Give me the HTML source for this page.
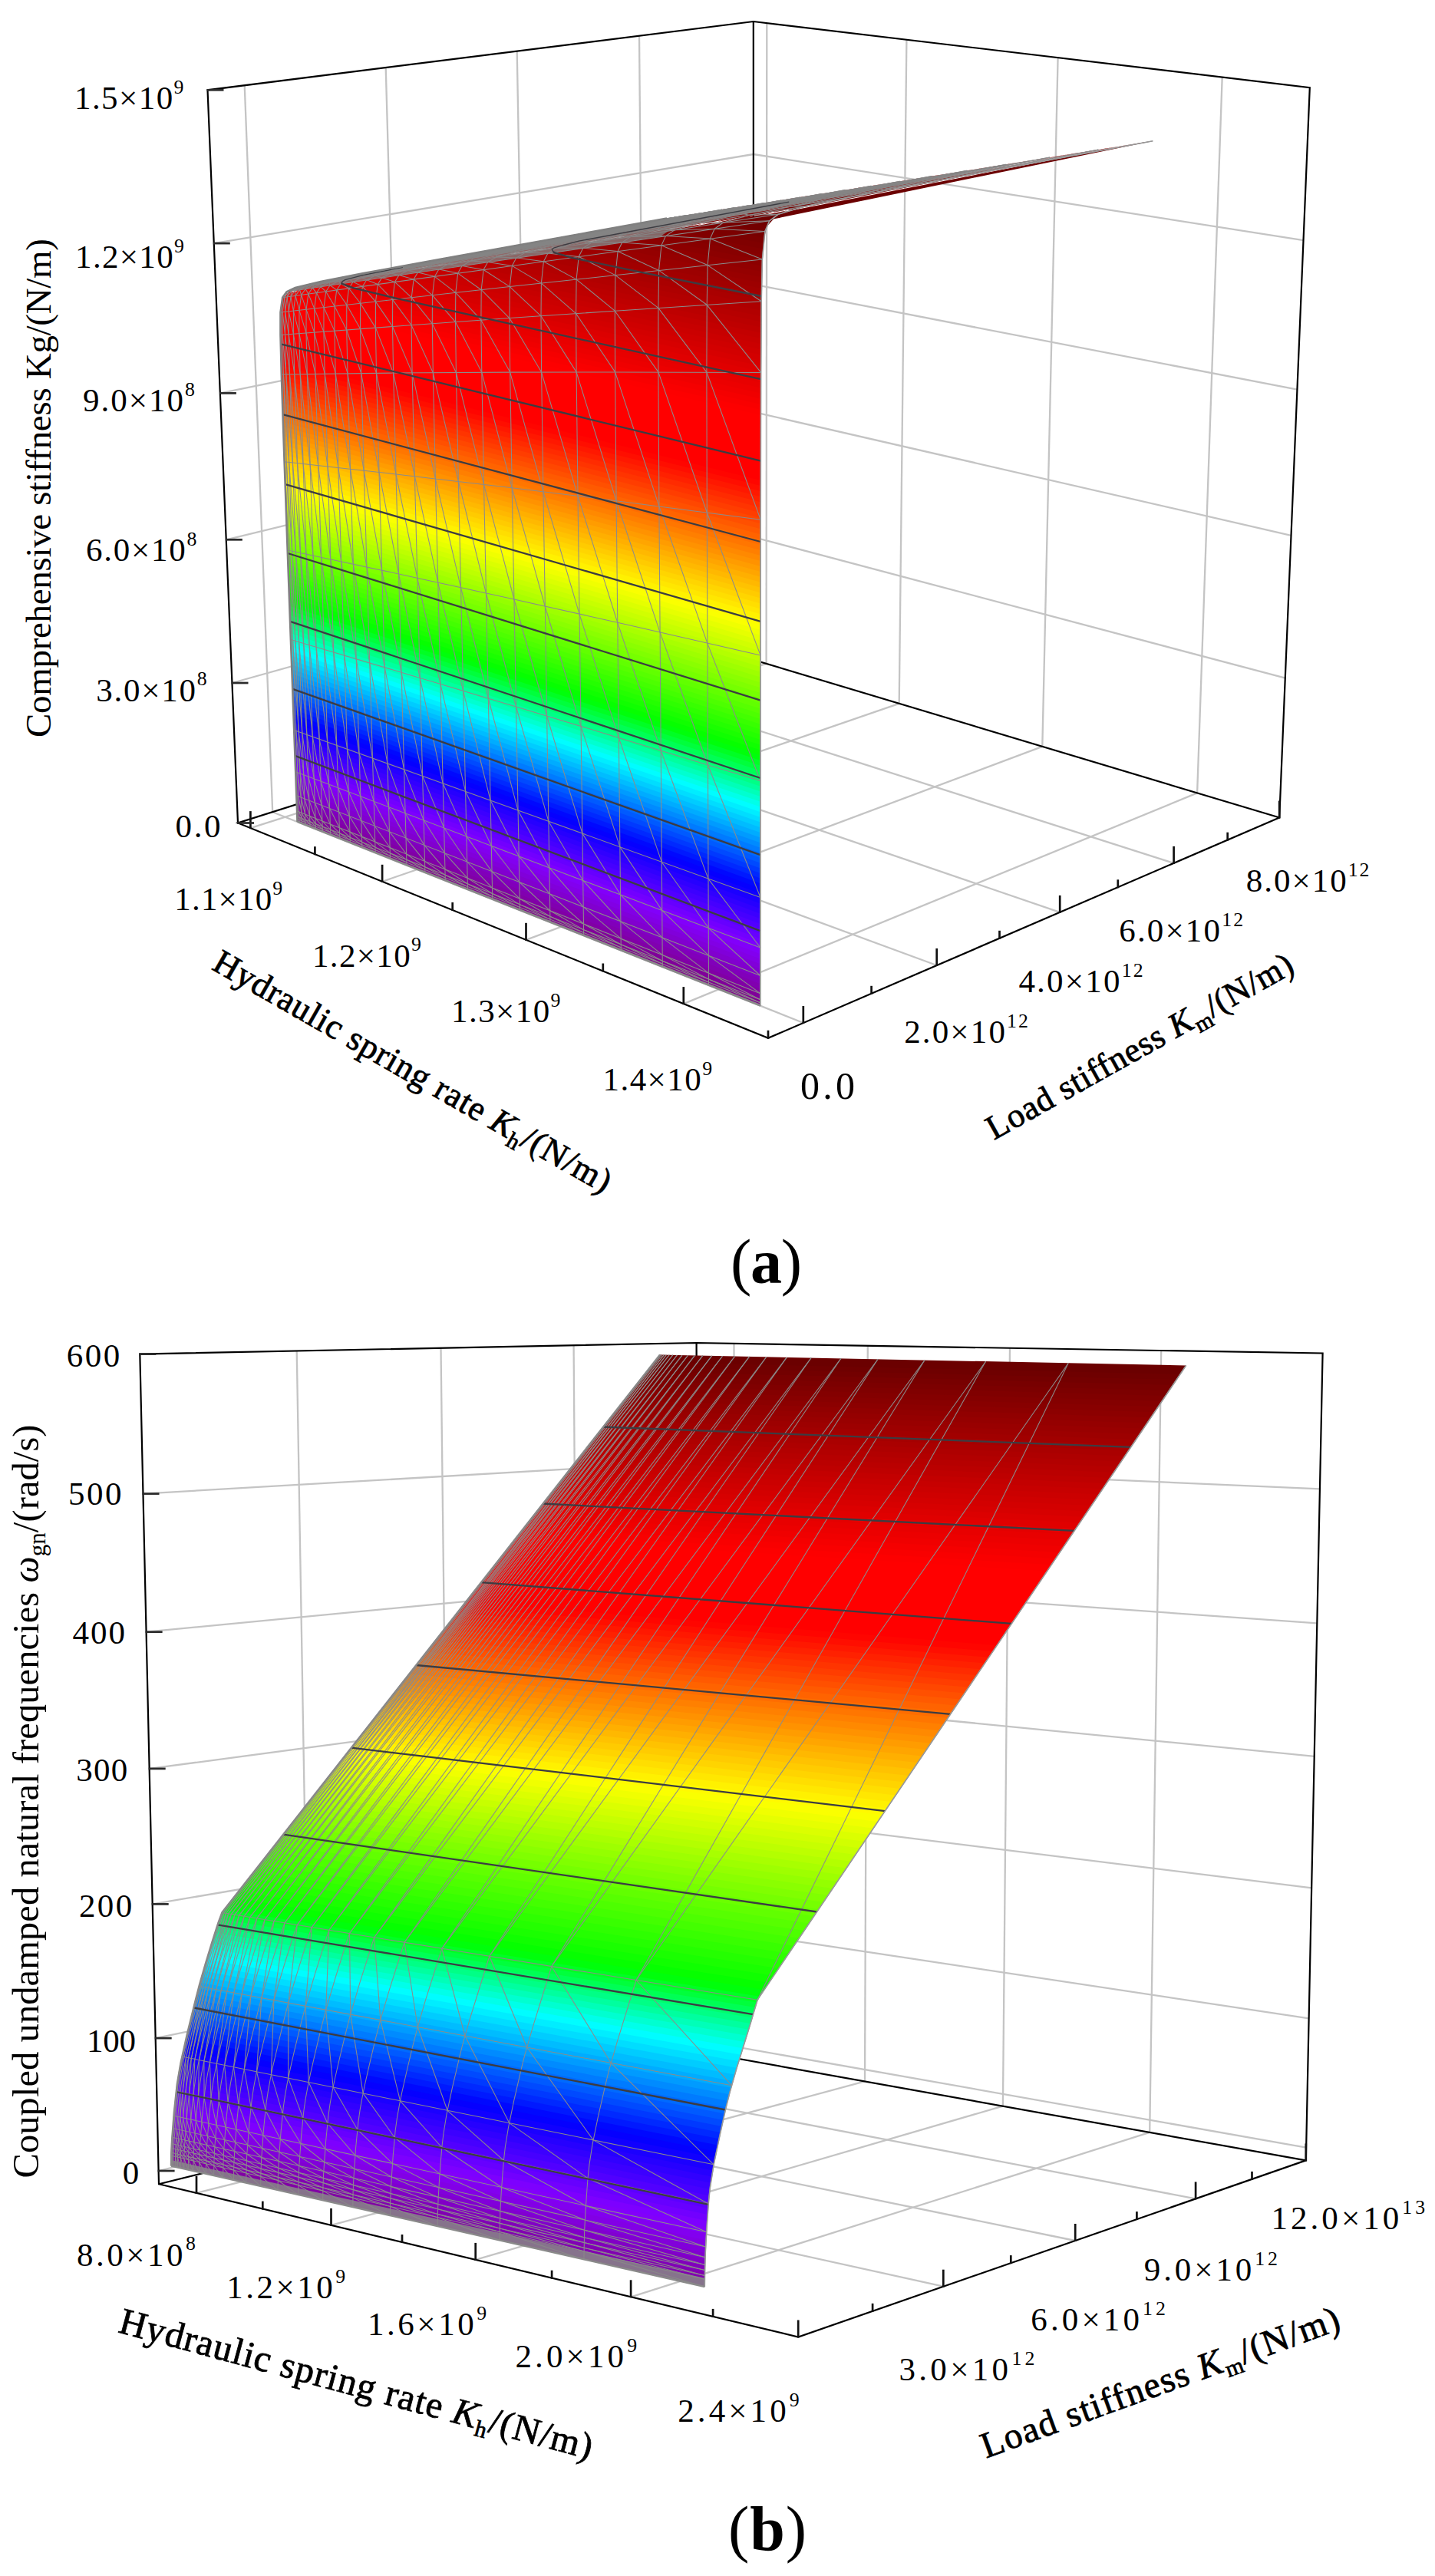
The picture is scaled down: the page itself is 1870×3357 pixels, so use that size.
<!DOCTYPE html><html><head><meta charset="utf-8"><title>Figure</title>
<style>html,body{margin:0;padding:0;background:#fff}svg{display:block}text{font-family:"Liberation Serif",serif;fill:#000}</style></head><body>
<svg width="1870" height="3357" viewBox="0 0 1870 3357">
<rect width="1870" height="3357" fill="#fff"/>
<g stroke="#c4c4c4" stroke-width="2.3">
<line x1="355.2" y1="1058.2" x2="318.7" y2="111.2"/>
<line x1="355.2" y1="1058.2" x2="1046.8" y2="1333"/>
<line x1="528.2" y1="1003.5" x2="502.7" y2="88.1"/>
<line x1="528.2" y1="1003.5" x2="1220.7" y2="1258"/>
<line x1="689.6" y1="952.4" x2="673.7" y2="66.7"/>
<line x1="689.6" y1="952.4" x2="1381.2" y2="1188.9"/>
<line x1="840.6" y1="904.7" x2="833" y2="46.7"/>
<line x1="840.6" y1="904.7" x2="1529.6" y2="1124.9"/>
<line x1="998.6" y1="864.9" x2="999.3" y2="30.1"/>
<line x1="326.4" y1="1079.1" x2="998.6" y2="864.9"/>
<line x1="1171.7" y1="916.9" x2="1181.4" y2="51.7"/>
<line x1="498.1" y1="1148.8" x2="1171.7" y2="916.9"/>
<line x1="1358.3" y1="972.9" x2="1378.6" y2="75.2"/>
<line x1="685.5" y1="1224.8" x2="1358.3" y2="972.9"/>
<line x1="1560.1" y1="1033.4" x2="1592.7" y2="100.6"/>
<line x1="890.8" y1="1308.1" x2="1560.1" y2="1033.4"/>
<line x1="302.5" y1="890" x2="982" y2="700"/>
<line x1="982" y1="700" x2="1674.8" y2="883.7"/>
<line x1="294.8" y1="703.3" x2="981.9" y2="536.9"/>
<line x1="981.9" y1="536.9" x2="1682.5" y2="697.8"/>
<line x1="286.9" y1="512.4" x2="981.9" y2="370.6"/>
<line x1="981.9" y1="370.6" x2="1690.5" y2="507.7"/>
<line x1="278.8" y1="317.1" x2="981.8" y2="201"/>
<line x1="981.8" y1="201" x2="1698.5" y2="313.2"/>
</g>
<g stroke="#000" stroke-width="2.2" stroke-linecap="square" fill="none">
<polyline points="310,1072.5 270.5,117.3 981.8,28 1706.8,114.2 1667.2,1065.5 1001,1352.8 310,1072.5 982,859.9 1667.2,1065.5"/>
<polyline points="981.8,28 982,859.9"/>
</g>
<g>
<polygon points="387.6,1071 990.8,1310.8 990.8,1304.3 387.4,1065.3" fill="#800085"/>
<polygon points="387.5,1068.7 990.8,1308.2 990.8,1297.8 387.2,1059.6" fill="#800090"/>
<polygon points="387.3,1063 990.8,1301.7 990.8,1291.4 386.9,1053.9" fill="#80009a"/>
<polygon points="387.1,1057.3 990.8,1295.2 990.9,1284.9 386.7,1048.1" fill="#8100a5"/>
<polygon points="386.9,1051.6 990.9,1288.8 990.9,1278.4 386.5,1042.4" fill="#8100b0"/>
<polygon points="386.6,1045.8 990.9,1282.3 990.9,1271.8 386.3,1036.7" fill="#8100ba"/>
<polygon points="386.4,1040.1 990.9,1275.8 990.9,1265.3 386.1,1030.9" fill="#8100c5"/>
<polygon points="386.2,1034.4 990.9,1269.2 990.9,1258.8 385.9,1025.2" fill="#8100cf"/>
<polygon points="386,1028.6 990.9,1262.7 990.9,1252.3 385.7,1019.4" fill="#8100da"/>
<polygon points="385.8,1022.9 990.9,1256.2 990.9,1245.8 385.5,1013.7" fill="#8200e5"/>
<polygon points="385.6,1017.1 990.9,1249.7 990.9,1239.2 385.3,1007.9" fill="#8200ef"/>
<polygon points="385.4,1011.4 990.9,1243.2 990.9,1232.7 385.1,1002.2" fill="#8200fa"/>
<polygon points="385.2,1005.6 990.9,1236.6 990.9,1226.2 384.8,996.4" fill="#7d00ff"/>
<polygon points="385,999.9 990.9,1230.1 990.9,1219.6 384.6,990.7" fill="#7200ff"/>
<polygon points="384.8,994.1 990.9,1223.5 990.9,1213.1 384.4,984.9" fill="#6700ff"/>
<polygon points="384.6,988.4 990.9,1217 990.9,1206.5 384.2,979.1" fill="#5c00ff"/>
<polygon points="384.3,982.6 990.9,1210.4 990.9,1199.9 384,973.3" fill="#5100ff"/>
<polygon points="384.1,976.8 990.9,1203.9 990.9,1193.4 383.8,967.6" fill="#4600ff"/>
<polygon points="383.9,971 990.9,1197.3 990.9,1186.8 383.6,961.8" fill="#3c00ff"/>
<polygon points="383.7,965.2 990.9,1190.7 990.9,1180.2 383.4,956" fill="#3100ff"/>
<polygon points="383.5,959.5 990.9,1184.2 990.9,1173.6 383.2,950.2" fill="#2600ff"/>
<polygon points="383.3,953.7 990.9,1177.6 990.9,1167 383,944.4" fill="#1b00ff"/>
<polygon points="383.1,947.9 990.9,1171 990.9,1160.4 382.7,938.6" fill="#1000ff"/>
<polygon points="382.9,942.1 990.9,1164.4 990.9,1153.8 382.5,932.8" fill="#0500ff"/>
<polygon points="382.7,936.3 990.9,1157.8 990.9,1147.2 382.3,927" fill="#0008ff"/>
<polygon points="382.4,930.5 990.9,1151.2 990.9,1140.6 382.1,921.2" fill="#0019ff"/>
<polygon points="382.2,924.6 990.9,1144.6 990.9,1134 381.9,915.3" fill="#0029ff"/>
<polygon points="382,918.8 990.9,1138 990.9,1127.4 381.7,909.5" fill="#0039ff"/>
<polygon points="381.8,913 990.9,1131.4 990.9,1120.8 381.5,903.7" fill="#004aff"/>
<polygon points="381.6,907.2 990.9,1124.7 990.9,1114.1 381.3,897.9" fill="#005aff"/>
<polygon points="381.4,901.4 990.9,1118.1 990.9,1107.5 381.1,892" fill="#006aff"/>
<polygon points="381.2,895.5 990.9,1111.5 990.9,1100.8 380.8,886.2" fill="#007bff"/>
<polygon points="381,889.7 990.9,1104.8 990.9,1094.2 380.6,880.3" fill="#008bff"/>
<polygon points="380.8,883.8 990.9,1098.2 990.9,1087.5 380.4,874.5" fill="#009bff"/>
<polygon points="380.5,878 990.9,1091.5 990.9,1080.9 380.2,868.6" fill="#00acff"/>
<polygon points="380.3,872.1 990.9,1084.9 990.9,1074.2 380,862.8" fill="#00bcff"/>
<polygon points="380.1,866.3 990.9,1078.2 991,1067.5 379.8,856.9" fill="#00ccff"/>
<polygon points="379.9,860.4 991,1071.5 991,1060.9 379.6,851.1" fill="#00ddff"/>
<polygon points="379.7,854.6 991,1064.9 991,1054.2 379.3,845.2" fill="#00edff"/>
<polygon points="379.5,848.7 991,1058.2 991,1047.5 379.1,839.3" fill="#00fdff"/>
<polygon points="379.3,842.8 991,1051.5 991,1040.8 378.9,833.4" fill="#00ffe9"/>
<polygon points="379.1,837 991,1044.8 991,1034.1 378.7,827.6" fill="#00ffd0"/>
<polygon points="378.8,831.1 991,1038.1 991,1027.4 378.5,821.7" fill="#00ffb8"/>
<polygon points="378.6,825.2 991,1031.4 991,1020.7 378.3,815.8" fill="#00ff9f"/>
<polygon points="378.4,819.3 991,1024.7 991,1014 378.1,809.9" fill="#00ff86"/>
<polygon points="378.2,813.4 991,1018 991,1007.2 377.9,804" fill="#00ff6e"/>
<polygon points="378,807.5 991,1011.3 991,1000.5 377.6,798.1" fill="#00ff55"/>
<polygon points="377.8,801.6 991,1004.5 991,993.8 377.4,792.2" fill="#00ff3c"/>
<polygon points="377.6,795.7 991,997.8 991,987 377.2,786.3" fill="#00ff24"/>
<polygon points="377.3,789.8 991,991.1 991,980.3 377,780.4" fill="#00ff0b"/>
<polygon points="377.1,783.9 991,984.3 991,973.5 376.8,774.4" fill="#06ff00"/>
<polygon points="376.9,778 991,977.6 991,966.8 376.6,768.5" fill="#10ff00"/>
<polygon points="376.7,772.1 991,970.8 991,960 376.4,762.6" fill="#1aff00"/>
<polygon points="376.5,766.1 991,964.1 991,953.3 376.1,756.7" fill="#24ff00"/>
<polygon points="376.3,760.2 991,957.3 991,946.5 375.9,750.7" fill="#2eff00"/>
<polygon points="376.1,754.3 991,950.6 991,939.7 375.7,744.8" fill="#38ff00"/>
<polygon points="375.8,748.4 991,943.8 991,932.9 375.5,738.8" fill="#43ff00"/>
<polygon points="375.6,742.4 991,937 991,926.2 375.3,732.9" fill="#4dff00"/>
<polygon points="375.4,736.5 991,930.2 991,919.4 375.1,726.9" fill="#57ff00"/>
<polygon points="375.2,730.5 991,923.4 991,912.6 374.9,721" fill="#61ff00"/>
<polygon points="375,724.6 991,916.6 991,905.8 374.6,715" fill="#6bff00"/>
<polygon points="374.8,718.6 991,909.8 991.1,898.9 374.4,709.1" fill="#76ff00"/>
<polygon points="374.6,712.6 991,903 991.1,892.1 374.2,703.1" fill="#80ff00"/>
<polygon points="374.3,706.7 991.1,896.2 991.1,885.3 374,697.1" fill="#8aff00"/>
<polygon points="374.1,700.7 991.1,889.4 991.1,878.5 373.8,691.1" fill="#94ff00"/>
<polygon points="373.9,694.7 991.1,882.6 991.1,871.7 373.6,685.2" fill="#9eff00"/>
<polygon points="373.7,688.7 991.1,875.8 991.1,864.8 373.4,679.2" fill="#a8ff00"/>
<polygon points="373.5,682.8 991.1,868.9 991.1,858 373.2,673.2" fill="#b3ff00"/>
<polygon points="373.3,676.8 991.1,862.1 991.1,851.1 372.9,667.2" fill="#bdff00"/>
<polygon points="373.1,670.8 991.1,855.2 991.1,844.3 372.7,661.2" fill="#c7ff00"/>
<polygon points="372.9,664.8 991.1,848.4 991.1,837.4 372.5,655.2" fill="#d1ff00"/>
<polygon points="372.6,658.8 991.1,841.5 991.1,830.5 372.3,649.2" fill="#dbff00"/>
<polygon points="372.4,652.8 991.1,834.7 991.1,823.7 372.1,643.2" fill="#e6ff00"/>
<polygon points="372.2,646.8 991.1,827.8 991.1,816.8 371.9,637.1" fill="#f0ff00"/>
<polygon points="372,640.7 991.1,820.9 991.1,809.9 371.7,631.1" fill="#faff00"/>
<polygon points="371.8,634.7 991.1,814 991.1,803 371.4,625.1" fill="#fffa00"/>
<polygon points="371.6,628.7 991.1,807.1 991.1,796.1 371.2,619.1" fill="#fff100"/>
<polygon points="371.4,622.7 991.1,800.3 991.1,789.2 371,613" fill="#ffe700"/>
<polygon points="371.1,616.6 991.1,793.4 991.1,782.3 370.8,607" fill="#ffde00"/>
<polygon points="370.9,610.6 991.1,786.5 991.2,775.4 370.6,600.9" fill="#ffd500"/>
<polygon points="370.7,604.6 991.1,779.5 991.2,768.5 370.4,594.9" fill="#ffcb00"/>
<polygon points="370.5,598.5 991.2,772.6 991.2,761.6 370.2,588.8" fill="#ffc200"/>
<polygon points="370.3,592.5 991.2,765.7 991.2,754.6 370,582.8" fill="#ffb800"/>
<polygon points="370.1,586.4 991.2,758.8 991.2,747.7 369.8,576.7" fill="#ffaf00"/>
<polygon points="369.9,580.4 991.2,751.8 991.2,740.7 369.6,570.6" fill="#ffa500"/>
<polygon points="369.7,574.3 991.2,744.9 991.2,733.8 369.4,564.6" fill="#ff9c00"/>
<polygon points="369.5,568.2 991.2,738 991.2,726.8 369.2,558.5" fill="#ff9200"/>
<polygon points="369.3,562.1 991.2,731 991.2,719.9 368.9,552.4" fill="#ff8900"/>
<polygon points="369.1,556.1 991.2,724.1 991.2,712.9 368.7,546.3" fill="#ff7f00"/>
<polygon points="368.9,550 991.2,717.1 991.2,706 368.5,540.2" fill="#ff7600"/>
<polygon points="368.7,543.9 991.2,710.1 991.2,699 368.3,534.2" fill="#ff6d00"/>
<polygon points="368.5,537.8 991.2,703.2 991.2,692 368.1,528.1" fill="#ff6300"/>
<polygon points="368.3,531.7 991.2,696.2 991.2,685 367.9,522" fill="#ff5a00"/>
<polygon points="368,525.6 991.2,689.2 991.2,678 367.7,515.8" fill="#ff5000"/>
<polygon points="367.8,519.5 991.2,682.2 991.3,671 367.5,509.7" fill="#ff4700"/>
<polygon points="367.6,513.4 991.2,675.2 991.3,664 367.3,503.6" fill="#ff3d00"/>
<polygon points="367.4,507.3 991.3,668.2 991.3,657 367.1,497.5" fill="#ff3400"/>
<polygon points="367.2,501.2 991.3,661.2 991.3,650 366.9,491.4" fill="#ff2b00"/>
<polygon points="367,495.1 991.3,654.2 991.3,642.9 366.7,485.2" fill="#ff2100"/>
<polygon points="366.8,488.9 991.3,647.2 991.3,635.9 366.6,479.1" fill="#ff1800"/>
<polygon points="366.6,482.8 991.3,640.1 991.3,628.9 366.4,473" fill="#ff0e00"/>
<polygon points="366.5,476.6 991.3,633.1 991.4,621.8 366.2,466.8" fill="#ff0500"/>
<polygon points="366.3,470.5 991.3,626.1 991.4,614.8 366.1,460.6" fill="#ff0000"/>
<polygon points="366.2,464.3 991.4,619 991.4,607.7 365.9,454.5" fill="#ff0000"/>
<polygon points="366,458.2 991.4,612 991.4,600.7 365.8,448.3" fill="#ff0000"/>
<polygon points="365.9,452 991.4,604.9 991.4,593.6 365.6,442.2" fill="#ff0000"/>
<polygon points="365.7,445.9 991.4,597.9 991.4,586.5 365.5,436" fill="#ff0000"/>
<polygon points="365.5,439.7 991.4,590.8 991.4,579.5 365.5,429.8" fill="#ff0000"/>
<polygon points="365.5,433.5 991.4,583.7 991.5,572.4 624.1,485.3 365.5,423.6" fill="#ff0000"/>
<polygon points="365.5,427.3 608.9,485.6 991.4,576.6 991.5,565.3 582.3,468.8 365.5,417.3" fill="#ff0000"/>
<polygon points="365.5,421.1 631.8,484.5 991.5,569.5 991.5,558.2 504.7,444.1 365.5,411.1" fill="#ff0000"/>
<polygon points="365.5,414.9 548.7,458.3 991.5,562.5 991.5,551.1 468.6,429.3 365.8,404.8" fill="#ff0000"/>
<polygon points="365.5,408.6 479.4,435.7 991.5,555.4 991.5,544 486.4,427.1 390,404.4 366.7,398.4" fill="#ff0000"/>
<polygon points="366.2,402.3 379,405.6 475.7,428.5 991.5,548.2 991.5,536.9 507.9,425.8 409.5,402.7 367.6,392.1" fill="#ff0000"/>
<polygon points="367.1,395.9 399.1,404.1 497.1,427.1 991.5,541.1 991.5,529.8 469.6,410.4 423.4,399.6 374.2,387.1 369.9,385.4" fill="#fd0000"/>
<polygon points="368,389.5 416.4,401.8 515.2,424.9 991.5,534 991.6,522.6 551.8,422.9 444.2,398.1 391.7,384.9 379.1,380 378.3,379 379.2,377.5" fill="#f90000"/>
<polygon points="371.9,382.6 381.6,386.4 433.7,399.5 540.7,424.3 991.6,526.9 991.6,515.5 574,421.5 465.2,396.6 408.8,382.6 396.4,377.8 394.8,376.7 396.4,373.7 403.5,371.3 425.8,365.6 446.1,361.7 869,284.6" fill="#f50000"/>
<polygon points="385.9,376.3 384.7,378.4 398.5,384 451.8,397.4 559.2,422 991.6,519.8 991.6,508.4 596.6,420 483,394.2 424.7,379.9 413.4,375.4 411.4,374.4 412.8,371.3 421.1,368.5 438.5,364 695.2,316.4 886.3,281.9 875.2,283.7" fill="#f00000"/>
<polygon points="403,372.7 401.4,375.8 403.2,376.9 413,380.8 469.7,395 581.5,420.6 991.6,512.6 991.6,501.2 619.4,418.5 500.9,391.8 443.3,377.8 428.2,372 429.5,369 434.4,366.8 452.4,362.1 567.9,339.9 903.6,279.1 889.6,281.3" fill="#ec0000"/>
<polygon points="419.5,370.4 418.1,373.5 430.1,378.3 432.9,379.2 489.5,393.1 604.2,419.1 991.6,505.5 991.6,494.1 638.6,416.2 522.6,390.2 460.8,375.3 445.3,369.6 446.2,366.6 449.8,364.6 472.7,358.6 524.9,348.3 921.1,276.3 907,278.6" fill="#e80000"/>
<polygon points="436.2,368.1 435,371.1 450.3,376.8 508.1,390.9 626.9,417.6 991.6,498.4 991.6,486.9 661.9,414.7 540.9,387.8 478.5,372.9 462.7,367.2 463.2,364.3 464.5,362.6 480.9,358.3 525.9,348.8 597,335.5 938.7,273.5 924.6,275.8" fill="#e40000"/>
<polygon points="453.2,365.2 452.2,368.6 465,373.4 526.3,388.4 650.3,416.1 991.6,491.2 991.7,479.7 685.5,413.2 559.4,385.4 496.4,370.4 480.3,364.7 480,363.7 480.7,360.4 495.5,356.3 527.4,349.1 956.5,270.7 941.1,273.1" fill="#e00000"/>
<polygon points="470.4,362.1 469.7,364.8 469.7,366.2 482.8,371 544.7,386 673.7,414.6 991.6,484 991.7,472.6 709.4,411.6 578.1,382.9 514.4,367.9 497.6,362 497.5,360.9 498,357.9 510.4,354.3 529.6,349.4 657.8,325.2 974.5,267.8 957.3,270.6" fill="#dc0000"/>
<polygon points="487.5,359.8 487,362.3 487.4,363.7 500.7,368.5 566.8,384.4 697.4,413.1 991.7,476.9 991.8,465.4 733.6,410 600.6,381.2 532.6,365.3 516,359.7 515.1,358.4 515.4,355.5 525.6,352.2 540.9,348 547.3,346.6 706.5,316.7 989,265.5 975.4,267.7" fill="#d70000"/>
<polygon points="504.9,356.9 504.5,359.9 505.2,361.2 518.7,365.9 585.6,381.9 717.4,410.6 991.7,469.7 991.8,458.2 758,408.5 619.7,378.7 551,362.8 534.1,357.1 532.9,355.9 533,353 541,350.1 556,346 658.4,326 1007.2,262.6 992.6,264.9" fill="#d30000"/>
<polygon points="522.4,354.5 522.2,357.4 523.2,358.6 539.1,364.1 604.5,379.3 741.7,409.1 991.8,462.5 991.9,451 782.8,406.8 639,376.1 569.6,360.2 552.4,354.5 550.9,353.3 550.8,350.4 556.7,348 571.4,343.9 626.9,332.4 1025.6,259.7 1010.9,262" fill="#cf0000"/>
<polygon points="540.1,352 540.1,354.9 541.4,356.1 558.4,361.7 627.4,377.6 766.2,407.5 991.8,455.3 991.9,443.8 803.7,404.3 662.3,374.4 639.7,369.3 585.3,356.7 570.9,351.9 569.1,350.8 568.8,347.9 572.6,345.8 587,341.7 630.4,332.4 1044.2,256.7 1029.3,259.1" fill="#cb0000"/>
<polygon points="558,349.4 558.1,352.3 559.8,353.5 577.1,359.2 643,374.2 791.1,405.8 991.9,448.1 992,436.6 682,371.8 633.1,360.8 607.3,355 589.5,349.3 587.5,348.2 587,345.3 588.8,343.6 602.9,339.5 634.4,332.4 1062.9,253.7 1047.9,256.1" fill="#c70000"/>
<polygon points="576.1,346.9 576.4,349.7 578.3,350.9 592.8,355.6 636.3,365.7 670.2,373.3 709.7,381.7 991.9,440.9 992,429.4 705.4,369.9 626.4,352.3 608.4,346.6 606,345.6 605.3,341.3 619.1,337.3 638.9,332.3 1078,251.3 1066.7,253.1" fill="#c30000"/>
<polygon points="595.3,342.7 594.4,344.3 594.9,347.1 597,348.2 614.9,353.9 689.9,370.7 992,433.7 992.1,422.2 726,367.3 645.7,349.6 624.8,342.9 623.7,338.7 649,331.2 736.1,314.2 1097,248.3 1081.8,250.7" fill="#be0000"/>
<polygon points="612.5,340.3 613.5,344.5 616,345.6 634.1,351.2 713.9,368.9 992,426.5 992.1,415 746.3,364.6 665.2,346.9 643.8,340.2 642.4,336 652.2,332.8 665.4,328.9 757.4,310.8 1116.2,245.2 1100.8,247.7" fill="#ba0000"/>
<polygon points="631.1,337.6 632.4,341.9 653.5,348.5 734.1,366.2 992.1,419.3 992.1,407.7 770.9,362.8 684.9,344.2 663,337.5 661.3,333.3 669.1,330.4 682,326.6 735.3,315.5 1135.6,242.2 1120.1,244.6" fill="#b60000"/>
<polygon points="649.9,335 651.4,339.2 673.1,345.8 754.5,363.6 992.1,412.1 992.2,400.5 791.7,360 704.8,341.4 682.5,334.8 680.4,330.6 686.3,328.1 699,324.3 741.1,315.2 1155.1,239 1139.5,241.5" fill="#b20000"/>
<polygon points="668.9,332.3 670.8,336.4 692.9,343 779.2,361.7 992.2,404.8 992.2,393.3 812.7,357.3 724.9,338.6 702.3,332 701.2,330.7 699.7,327.9 703.8,325.6 716.2,321.9 747.4,314.7 1174.8,235.9 1159,238.4" fill="#ae0000"/>
<polygon points="688.1,329.5 690.4,333.7 712.8,340.3 800.1,358.9 992.2,397.6 992.4,386 838.2,355.3 745.2,335.8 722.3,329.2 720.9,327.9 719.3,325.1 721.5,323.2 733.7,319.5 754.3,314.2 1028.2,263.1 1190.7,233.4 1178.8,235.3" fill="#aa0000"/>
<polygon points="710.9,324.7 707.5,326.8 709,329.6 710.3,330.9 733,337.5 821.2,356.2 992.3,390.4 992.5,378.7 858.7,352.3 765.8,332.9 742.4,326.3 740.8,325.1 739,322.3 739.6,320.7 763.3,313.4 896.1,287.7 1210.7,230.2 1194.7,232.7" fill="#a50000"/>
<polygon points="730,321.8 728.7,322.2 727.2,324 728.8,326.8 730.3,328 753.4,334.6 846.8,354.2 992.4,383.1 992.7,371.4 881.4,349.7 786.5,330 762.8,323.4 761.1,322.5 758.1,318.1 781,310.9 864.9,294.1 1230.9,227 1214.3,229.6" fill="#a10000"/>
<polygon points="746.8,319.7 747,321.2 748.8,323.9 750.6,325.1 774,331.8 868.3,351.4 992.6,375.8 992.9,364.2 907.7,347.6 807.5,327.1 783.4,320.5 781.3,319.3 778.2,315.3 799.1,308.4 850.4,297.5 1251.3,223.7 1235,226.3" fill="#9d0000"/>
<polygon points="766.1,317 769.1,321.1 771.1,322.3 794.9,328.9 890.2,348.5 992.8,368.5 993,356.9 929.9,344.7 828.7,324.2 804.3,317.6 801.9,316.4 798.5,312.4 806.3,309.4 817.4,305.8 858.5,296.8 1271.9,220.4 1255.4,223.1" fill="#990000"/>
<polygon points="786.3,314.1 789.5,318.2 791.7,319.3 815.9,325.9 916.6,346.5 992.9,361.2 993.2,349.6 952.5,341.8 850.1,321.2 825.3,314.6 822.7,313.5 819.1,309.4 825.1,306.8 836,303.2 867.1,296 1283.3,218.8 1288.5,217.8 1276.1,219.8" fill="#950000"/>
<polygon points="813.8,308.4 806.7,311.2 810.7,315.8 837.2,323 938.9,343.6 993.1,353.9 993.3,342.3 871.7,318.2 846.6,311.6 843.8,310.5 839.8,306.5 844.2,304.1 854.8,300.6 876.2,295.2 1079.7,256.6 1311.3,214.2 1292.7,217.1" fill="#910000"/>
<polygon points="832.7,305.7 827.3,308.3 831.1,312.3 833.8,313.4 858.7,320 961.5,340.6 993.2,346.6 993.7,334.9 897.7,316 886.2,313.2 867.2,308.3 865,307.5 860.9,303.5 863.6,301.4 885.9,294.2 1006.7,270.7 1330.6,211.1 1313.7,213.8" fill="#8c0000"/>
<polygon points="852,303 848.2,305.3 852.2,309.3 855.1,310.4 880.4,317 993.4,339.3 994.4,327.5 915.7,312 889.8,305.5 886.5,304.4 882.1,300.5 883.3,298.7 903.5,291.8 980.8,276.1 1351.9,207.7 1334.8,210.4" fill="#880000"/>
<polygon points="871.5,300.3 869.3,302.3 873.6,306.3 876.7,307.3 902.4,313.9 994,331.9 995.1,320.1 938,308.9 908.3,301.4 903.6,297.4 903.3,295.9 923,289.1 972.7,278.4 1373.4,204.3 1356.2,207" fill="#840000"/>
<polygon points="891.3,297.5 890.7,299.2 895.2,303.2 898.5,304.2 925.5,311 994.7,324.5 995.8,312.6 960.6,305.8 930.3,298.3 923.7,293 942.8,286.3 983.1,277.4 1395.1,200.8 1377.7,203.6" fill="#800000"/>
<polygon points="911.3,294.7 912.3,296.2 917,300.1 920.5,301.1 947,307.7 995.4,317.1 996.5,305.2 983.4,302.6 952.5,295.1 945.6,289.9 962.8,283.5 994,276.2 1412.7,198 1399.5,200.1" fill="#7c0000"/>
<polygon points="941.2,288.5 932.4,291.7 939.1,297 969.7,304.5 996.1,309.7 998.5,297.5 975.1,291.9 967.8,286.7 974,283.9 983.2,280.6 1005.4,275 1148.6,247.2 1434.7,194.5 1417.1,197.3" fill="#780000"/>
<polygon points="961.6,285.7 954.4,288.6 961.5,293.8 996.8,302.2 1001.9,289.6 998,288.7 990.1,283.5 994.9,281 1003.8,277.7 1017.3,273.6 1126.4,252.1 1457.1,190.9 1439.2,193.8" fill="#730000"/>
<polygon points="982.3,282.8 976.7,285.4 982.2,289.3 984.2,290.6 999.9,294.4 1012.8,280.3 1016.1,278 1033.5,271.6 1105.7,256.7 1479.6,187.3 1461.5,190.2" fill="#6f0000"/>
<polygon points="1003.3,279.8 999.2,282.2 1004.9,286.1 1502.3,183.7 1484.1,186.6" fill="#6b0000"/>
</g>
<g fill="none" stroke="#8b8b8b" stroke-width="1.05">
<polyline points="387.6,1071 374.7,716.9 366.8,487.9 365.5,436.5 365.5,407.1 368.2,387.7 373.6,380.2 384.7,374.9 417.9,366.9 472.5,356.4 578,337.1 869,284.6"/>
<polyline points="388.2,1071.3 375.4,717 367.4,487.9 366.1,436.5 366.2,407.1 368.9,387.6 374.3,380.1 385.4,374.8 418.6,366.8 473.2,356.3 578.7,337 869.7,284.5"/>
<polyline points="390.2,1072.1 377.4,717.5 369.4,487.8 368.1,436.3 368.2,406.8 370.9,387.3 376.3,379.8 387.4,374.5 420.6,366.5 475.2,356 580.8,336.7 871.7,284.2"/>
<polyline points="393.5,1073.4 380.7,718.2 372.8,487.8 371.5,436 371.6,406.5 374.2,386.9 379.6,379.3 390.7,374 424,365.9 478.6,355.5 584.2,336.1 875.2,283.7"/>
<polyline points="398.1,1075.2 385.4,719.2 377.5,487.7 376.2,435.7 376.3,405.9 379,386.2 384.4,378.6 395.5,373.2 428.8,365.2 483.3,354.7 589,335.4 880,282.9"/>
<polyline points="404.1,1077.6 391.5,720.4 383.7,487.6 382.4,435.2 382.4,405.2 385.1,385.4 390.5,377.7 401.6,372.3 434.9,364.3 489.5,353.7 595.2,334.4 886.3,281.9"/>
<polyline points="411.5,1080.5 399,722 391.2,487.5 389.9,434.6 390,404.3 392.7,384.3 398.1,376.6 409.2,371.1 442.5,363.1 497.2,352.6 602.9,333.2 894.1,280.6"/>
<polyline points="420.4,1084.1 408,723.9 400.3,487.4 399,433.9 399.1,403.3 401.8,383 407.2,375.2 418.3,369.7 451.7,361.7 506.3,351.1 612.1,331.8 903.3,279.2"/>
<polyline points="430.8,1088.2 418.6,726.2 410.9,487.2 409.6,433.1 409.7,402.1 412.4,381.6 417.9,373.6 429,368.1 462.3,360 517,349.4 622.9,330.1 914.2,277.4"/>
<polyline points="442.8,1093 430.8,728.8 423.2,487.1 421.9,432.2 422,400.7 424.7,379.9 430.1,371.8 441.3,366.3 474.7,358.1 529.4,347.5 635.3,328.1 926.8,275.4"/>
<polyline points="456.4,1098.4 440.8,609.4 437.2,486.9 435.9,431.1 436,399.1 438.7,377.9 444.2,369.8 455.3,364.1 488.7,355.9 543.5,345.3 649.5,325.9 941.1,273.1"/>
<polyline points="471.9,1104.5 456.5,611.1 453,486.7 451.7,429.9 451.8,397.3 454.6,375.7 460,367.4 471.2,361.7 504.6,353.4 559.5,342.8 665.5,323.3 957.3,270.6"/>
<polyline points="489.2,1111.4 474.2,613.1 470.7,486.5 469.5,428.6 469.6,395.3 472.4,373.3 477.8,364.8 489,359 522.5,350.7 577.4,340 683.5,320.5 975.4,267.7"/>
<polyline points="508.5,1119.1 494,615.4 490.5,486.3 489.4,427.1 489.5,393.1 492.3,370.5 497.7,361.9 508.9,356 542.5,347.6 597.4,336.9 703.6,317.3 995.6,264.5"/>
<polyline points="530,1127.6 516,617.9 512.6,486.1 511.5,425.5 511.7,390.6 514.4,367.4 519.9,358.6 531.1,352.6 564.7,344.1 619.7,333.4 726,313.8 1018.2,260.9"/>
<polyline points="553.9,1137.1 540.4,620.7 537.1,485.9 536.1,423.7 536.3,387.8 539.1,364 544.5,355 555.8,348.8 589.4,340.3 644.5,329.5 750.9,309.9 1043.2,256.9"/>
<polyline points="580.3,1147.6 567.4,623.9 564.3,485.7 563.3,421.7 563.5,384.8 566.4,360.3 571.9,350.9 583.1,344.7 616.8,336 671.9,325.2 778.5,305.5 1070.9,252.5"/>
<polyline points="609.5,1159.2 597.4,627.4 594.4,485.5 593.5,419.6 593.8,381.4 596.6,356.1 602.1,346.5 613.4,340.1 647.1,331.3 702.3,320.4 809,300.7 1101.5,247.6"/>
<polyline points="641.8,1172.1 630.5,631.4 627.8,485.3 626.9,417.2 627.2,377.7 630.1,351.5 635.7,341.6 646.9,335 680.7,326.1 736,315.2 842.8,295.4 1135.4,242.2"/>
<polyline points="677.5,1186.3 667.2,635.8 664.7,485.1 663.9,414.6 664.3,373.6 667.3,346.4 672.8,336.1 684.1,329.3 717.9,320.3 773.3,309.3 880.2,289.5 1172.9,236.2"/>
<polyline points="717,1201.9 707.9,640.8 705.6,485 705,411.8 705.4,369.1 708.4,340.7 714,330 725.3,323.1 759.2,313.9 814.7,302.9 921.7,283 1214.3,229.6"/>
<polyline points="760.7,1219.3 753,646.4 751.1,484.9 750.6,408.6 751.1,364.1 754.2,334.5 759.8,323.3 771.1,316.1 805.1,306.8 860.6,295.7 967.7,275.7 1260.3,222.3"/>
<polyline points="809.3,1238.6 803.1,652.7 801.6,484.9 801.3,405.2 801.9,358.6 805.1,327.5 810.7,315.9 822.1,308.4 856.1,298.9 911.7,287.7 1018.8,267.7 1311.3,214.2"/>
<polyline points="863.3,1260.1 858.9,659.9 857.9,484.9 857.9,401.4 858.6,352.4 861.9,319.8 867.5,307.5 879,299.8 913,290.1 968.6,278.8 1075.8,258.7 1368.1,205.1"/>
<polyline points="923.5,1284 921.3,668 920.9,485.1 921.2,397.3 922.1,345.6 925.4,311.1 931.2,298.2 942.6,290.1 976.7,280.2 1032.4,268.8 1139.6,248.7 1431.4,195"/>
<polyline points="990.8,1310.8 991.2,677.2 991.6,485.4 992.2,392.8 993.4,338 996.9,301.4 1002.7,287.8 1014.2,279.3 1048.3,269.1 1104,257.6 1211.1,237.4 1502.3,183.7"/>
<polyline points="387.6,1070.7 990.8,1310.4"/>
<polyline points="387.5,1070.3 990.8,1310"/>
<polyline points="387.5,1069.6 990.8,1309.2"/>
<polyline points="387.4,1067.4 990.8,1306.7"/>
<polyline points="387.3,1063.9 990.8,1302.7"/>
<polyline points="387.1,1056.9 990.8,1294.7"/>
<polyline points="386.3,1036.7 990.9,1271.5"/>
<polyline points="385.2,1005.7 990.9,1235"/>
<polyline points="383.2,951.5 675,1055.9 990.9,1169.5"/>
<polyline points="378.9,833.5 523,876.2 672.5,920.9 806.3,961.4 991,1017.7"/>
<polyline points="374.7,716.9 519.5,747.9 669.9,781 804.7,811.3 991.1,854.1"/>
<polyline points="370.6,601.7 516,617.9 667.2,635.8 803.1,652.7 991.2,677.2"/>
<polyline points="366.8,487.9 512.6,486.1 664.7,485.1 801.6,484.9 991.6,485.4"/>
<polyline points="365.5,436.5 511.5,425.5 663.9,414.6 801.3,405.2 992.2,392.8"/>
<polyline points="365.5,407.1 511.7,390.6 664.3,373.6 993.4,338"/>
<polyline points="368.2,387.7 667.3,346.4 996.9,301.4"/>
<polyline points="373.6,380.2 1002.7,287.8"/>
<polyline points="384.7,374.9 1014.2,279.3"/>
<polyline points="417.9,366.9 1048.3,269.1"/>
<polyline points="472.5,356.4 1104,257.6"/>
<polyline points="578,337.1 1211.1,237.4"/>
<line x1="389.9" y1="1064.9" x2="393.3" y2="1069.8"/>
<line x1="393.2" y1="1066.2" x2="398" y2="1071.6"/>
<line x1="397.8" y1="1068" x2="404" y2="1074"/>
<line x1="403.9" y1="1070.4" x2="411.4" y2="1076.9"/>
<line x1="411.3" y1="1073.4" x2="420.3" y2="1080.4"/>
<line x1="420.2" y1="1076.9" x2="430.7" y2="1084.6"/>
<line x1="430.6" y1="1081" x2="442.7" y2="1089.3"/>
<line x1="442.5" y1="1085.7" x2="456.3" y2="1094.7"/>
<line x1="456.2" y1="1091.1" x2="471.8" y2="1100.9"/>
<line x1="471.6" y1="1097.2" x2="489.1" y2="1107.7"/>
<line x1="489" y1="1104.1" x2="508.4" y2="1115.4"/>
<line x1="508.3" y1="1111.7" x2="529.9" y2="1123.9"/>
<line x1="529.8" y1="1120.3" x2="553.8" y2="1133.4"/>
<line x1="553.7" y1="1129.7" x2="580.2" y2="1143.9"/>
<line x1="580.1" y1="1140.2" x2="609.4" y2="1155.5"/>
<line x1="609.3" y1="1151.7" x2="641.7" y2="1168.3"/>
<line x1="641.6" y1="1164.5" x2="677.4" y2="1182.4"/>
<line x1="677.3" y1="1178.6" x2="716.9" y2="1198.1"/>
<line x1="716.9" y1="1194.3" x2="760.7" y2="1215.4"/>
<line x1="760.6" y1="1211.6" x2="809.2" y2="1234.7"/>
<line x1="809.2" y1="1230.8" x2="863.2" y2="1256.1"/>
<line x1="863.2" y1="1252.2" x2="923.4" y2="1280"/>
<line x1="923.4" y1="1276" x2="990.8" y2="1306.7"/>
<line x1="389.7" y1="1057.9" x2="393.2" y2="1066.2"/>
<line x1="393" y1="1059.2" x2="397.8" y2="1068"/>
<line x1="397.6" y1="1061" x2="403.9" y2="1070.4"/>
<line x1="403.6" y1="1063.4" x2="411.3" y2="1073.4"/>
<line x1="411" y1="1066.3" x2="420.2" y2="1076.9"/>
<line x1="419.9" y1="1069.8" x2="430.6" y2="1081"/>
<line x1="430.3" y1="1073.9" x2="442.5" y2="1085.7"/>
<line x1="442.3" y1="1078.6" x2="456.2" y2="1091.1"/>
<line x1="456" y1="1084" x2="471.6" y2="1097.2"/>
<line x1="471.4" y1="1090.1" x2="489" y2="1104.1"/>
<line x1="488.7" y1="1096.9" x2="508.3" y2="1111.7"/>
<line x1="508.1" y1="1104.5" x2="529.8" y2="1120.3"/>
<line x1="529.6" y1="1113" x2="553.7" y2="1129.7"/>
<line x1="553.5" y1="1122.4" x2="580.1" y2="1140.2"/>
<line x1="579.9" y1="1132.8" x2="609.3" y2="1151.7"/>
<line x1="609.1" y1="1144.4" x2="641.6" y2="1164.5"/>
<line x1="641.5" y1="1157.1" x2="677.3" y2="1178.6"/>
<line x1="677.2" y1="1171.2" x2="716.9" y2="1194.3"/>
<line x1="716.7" y1="1186.7" x2="760.6" y2="1211.6"/>
<line x1="760.5" y1="1204" x2="809.2" y2="1230.8"/>
<line x1="809.1" y1="1223.1" x2="863.2" y2="1252.2"/>
<line x1="863.1" y1="1244.4" x2="923.4" y2="1276"/>
<line x1="923.4" y1="1268.1" x2="990.8" y2="1302.7"/>
<line x1="388.9" y1="1037.7" x2="393" y2="1059.2"/>
<line x1="392.2" y1="1039" x2="397.6" y2="1061"/>
<line x1="396.9" y1="1040.8" x2="403.6" y2="1063.4"/>
<line x1="402.9" y1="1043.2" x2="411" y2="1066.3"/>
<line x1="410.3" y1="1046" x2="419.9" y2="1069.8"/>
<line x1="419.2" y1="1049.5" x2="430.3" y2="1073.9"/>
<line x1="429.6" y1="1053.5" x2="442.3" y2="1078.6"/>
<line x1="441.6" y1="1058.2" x2="456" y2="1084"/>
<line x1="455.3" y1="1063.5" x2="471.4" y2="1090.1"/>
<line x1="470.8" y1="1069.5" x2="488.7" y2="1096.9"/>
<line x1="488.1" y1="1076.2" x2="508.1" y2="1104.5"/>
<line x1="507.5" y1="1083.7" x2="529.6" y2="1113"/>
<line x1="529" y1="1092.1" x2="553.5" y2="1122.4"/>
<line x1="552.9" y1="1101.4" x2="579.9" y2="1132.8"/>
<line x1="579.4" y1="1111.7" x2="609.1" y2="1144.4"/>
<line x1="608.7" y1="1123" x2="641.5" y2="1157.1"/>
<line x1="641" y1="1135.6" x2="677.2" y2="1171.2"/>
<line x1="676.8" y1="1149.5" x2="716.7" y2="1186.7"/>
<line x1="716.4" y1="1164.9" x2="760.5" y2="1204"/>
<line x1="760.2" y1="1181.9" x2="809.1" y2="1223.1"/>
<line x1="808.9" y1="1200.8" x2="863.1" y2="1244.4"/>
<line x1="863" y1="1221.8" x2="923.4" y2="1268.1"/>
<line x1="923.3" y1="1245.2" x2="990.8" y2="1294.7"/>
<line x1="387.8" y1="1006.6" x2="392.2" y2="1039"/>
<line x1="391.1" y1="1007.9" x2="396.9" y2="1040.8"/>
<line x1="395.8" y1="1009.6" x2="402.9" y2="1043.2"/>
<line x1="401.8" y1="1011.9" x2="410.3" y2="1046"/>
<line x1="409.2" y1="1014.7" x2="419.2" y2="1049.5"/>
<line x1="418.1" y1="1018.1" x2="429.6" y2="1053.5"/>
<line x1="428.6" y1="1022" x2="441.6" y2="1058.2"/>
<line x1="440.6" y1="1026.6" x2="455.3" y2="1063.5"/>
<line x1="454.3" y1="1031.8" x2="470.8" y2="1069.5"/>
<line x1="469.8" y1="1037.6" x2="488.1" y2="1076.2"/>
<line x1="487.1" y1="1044.2" x2="507.5" y2="1083.7"/>
<line x1="506.5" y1="1051.5" x2="529" y2="1092.1"/>
<line x1="528.1" y1="1059.7" x2="552.9" y2="1101.4"/>
<line x1="552.1" y1="1068.8" x2="579.4" y2="1111.7"/>
<line x1="578.6" y1="1078.8" x2="608.7" y2="1123"/>
<line x1="607.9" y1="1089.9" x2="641" y2="1135.6"/>
<line x1="640.3" y1="1102.2" x2="676.8" y2="1149.5"/>
<line x1="676.2" y1="1115.7" x2="716.4" y2="1164.9"/>
<line x1="715.8" y1="1130.8" x2="760.2" y2="1181.9"/>
<line x1="759.7" y1="1147.4" x2="808.9" y2="1200.8"/>
<line x1="808.5" y1="1165.9" x2="863" y2="1221.8"/>
<line x1="862.7" y1="1186.4" x2="923.3" y2="1245.2"/>
<line x1="923.2" y1="1209.3" x2="990.9" y2="1271.5"/>
<line x1="385.8" y1="952.5" x2="391.1" y2="1007.9"/>
<line x1="389.2" y1="953.6" x2="395.8" y2="1009.6"/>
<line x1="393.8" y1="955.3" x2="401.8" y2="1011.9"/>
<line x1="399.9" y1="957.5" x2="409.2" y2="1014.7"/>
<line x1="407.3" y1="960.1" x2="418.1" y2="1018.1"/>
<line x1="416.2" y1="963.3" x2="428.6" y2="1022"/>
<line x1="426.7" y1="967" x2="440.6" y2="1026.6"/>
<line x1="438.8" y1="971.3" x2="454.3" y2="1031.8"/>
<line x1="452.5" y1="976.2" x2="469.8" y2="1037.6"/>
<line x1="468" y1="981.8" x2="487.1" y2="1044.2"/>
<line x1="485.4" y1="988" x2="506.5" y2="1051.5"/>
<line x1="504.9" y1="995" x2="528.1" y2="1059.7"/>
<line x1="526.5" y1="1002.7" x2="552.1" y2="1068.8"/>
<line x1="550.6" y1="1011.3" x2="578.6" y2="1078.8"/>
<line x1="577.1" y1="1020.8" x2="607.9" y2="1089.9"/>
<line x1="606.6" y1="1031.4" x2="640.3" y2="1102.2"/>
<line x1="639.1" y1="1043" x2="676.2" y2="1115.7"/>
<line x1="675" y1="1055.9" x2="715.8" y2="1130.8"/>
<line x1="714.8" y1="1070.2" x2="759.7" y2="1147.4"/>
<line x1="758.9" y1="1086.1" x2="808.5" y2="1165.9"/>
<line x1="807.8" y1="1103.6" x2="862.7" y2="1186.4"/>
<line x1="862.2" y1="1123.2" x2="923.2" y2="1209.3"/>
<line x1="922.9" y1="1145.1" x2="990.9" y2="1235"/>
<line x1="381.6" y1="834.3" x2="389.2" y2="953.6"/>
<line x1="384.9" y1="835.2" x2="393.8" y2="955.3"/>
<line x1="389.6" y1="836.6" x2="399.9" y2="957.5"/>
<line x1="395.6" y1="838.4" x2="407.3" y2="960.1"/>
<line x1="403.1" y1="840.6" x2="416.2" y2="963.3"/>
<line x1="412.1" y1="843.3" x2="426.7" y2="967"/>
<line x1="422.6" y1="846.4" x2="438.8" y2="971.3"/>
<line x1="434.7" y1="849.9" x2="452.5" y2="976.2"/>
<line x1="448.6" y1="854" x2="468" y2="981.8"/>
<line x1="464.2" y1="858.7" x2="485.4" y2="988"/>
<line x1="481.7" y1="863.9" x2="504.9" y2="995"/>
<line x1="501.3" y1="869.7" x2="526.5" y2="1002.7"/>
<line x1="523" y1="876.2" x2="550.6" y2="1011.3"/>
<line x1="547.2" y1="883.4" x2="577.1" y2="1020.8"/>
<line x1="573.9" y1="891.4" x2="606.6" y2="1031.4"/>
<line x1="603.5" y1="900.2" x2="639.1" y2="1043"/>
<line x1="636.3" y1="910" x2="675" y2="1055.9"/>
<line x1="672.5" y1="920.9" x2="714.8" y2="1070.2"/>
<line x1="712.6" y1="933" x2="758.9" y2="1086.1"/>
<line x1="757" y1="946.4" x2="807.8" y2="1103.6"/>
<line x1="806.3" y1="961.4" x2="862.2" y2="1123.2"/>
<line x1="861.2" y1="978.1" x2="922.9" y2="1145.1"/>
<line x1="922.4" y1="996.7" x2="990.9" y2="1169.5"/>
<line x1="377.4" y1="717.5" x2="384.9" y2="835.2"/>
<line x1="380.7" y1="718.2" x2="389.6" y2="836.6"/>
<line x1="385.4" y1="719.2" x2="395.6" y2="838.4"/>
<line x1="391.5" y1="720.4" x2="403.1" y2="840.6"/>
<line x1="399" y1="722" x2="412.1" y2="843.3"/>
<line x1="408" y1="723.9" x2="422.6" y2="846.4"/>
<line x1="418.6" y1="726.2" x2="434.7" y2="849.9"/>
<line x1="430.8" y1="728.8" x2="448.6" y2="854"/>
<line x1="444.6" y1="731.7" x2="464.2" y2="858.7"/>
<line x1="460.3" y1="735.1" x2="481.7" y2="863.9"/>
<line x1="477.9" y1="738.9" x2="501.3" y2="869.7"/>
<line x1="497.6" y1="743.1" x2="523" y2="876.2"/>
<line x1="519.5" y1="747.9" x2="547.2" y2="883.4"/>
<line x1="543.8" y1="753.2" x2="573.9" y2="891.4"/>
<line x1="570.7" y1="759.1" x2="603.5" y2="900.2"/>
<line x1="600.5" y1="765.6" x2="636.3" y2="910"/>
<line x1="633.4" y1="772.9" x2="672.5" y2="920.9"/>
<line x1="669.9" y1="781" x2="712.6" y2="933"/>
<line x1="710.2" y1="790" x2="757" y2="946.4"/>
<line x1="755" y1="800.1" x2="806.3" y2="961.4"/>
<line x1="804.7" y1="811.3" x2="861.2" y2="978.1"/>
<line x1="860" y1="823.9" x2="922.4" y2="996.7"/>
<line x1="921.8" y1="838.1" x2="991" y2="1017.7"/>
<line x1="373.3" y1="602" x2="380.7" y2="718.2"/>
<line x1="376.6" y1="602.4" x2="385.4" y2="719.2"/>
<line x1="381.3" y1="602.9" x2="391.5" y2="720.4"/>
<line x1="387.4" y1="603.5" x2="399" y2="722"/>
<line x1="395" y1="604.3" x2="408" y2="723.9"/>
<line x1="404" y1="605.3" x2="418.6" y2="726.2"/>
<line x1="414.6" y1="606.5" x2="430.8" y2="728.8"/>
<line x1="426.9" y1="607.8" x2="444.6" y2="731.7"/>
<line x1="440.8" y1="609.4" x2="460.3" y2="735.1"/>
<line x1="456.5" y1="611.1" x2="477.9" y2="738.9"/>
<line x1="474.2" y1="613.1" x2="497.6" y2="743.1"/>
<line x1="494" y1="615.4" x2="519.5" y2="747.9"/>
<line x1="516" y1="617.9" x2="543.8" y2="753.2"/>
<line x1="540.4" y1="620.7" x2="570.7" y2="759.1"/>
<line x1="567.4" y1="623.9" x2="600.5" y2="765.6"/>
<line x1="597.4" y1="627.4" x2="633.4" y2="772.9"/>
<line x1="630.5" y1="631.4" x2="669.9" y2="781"/>
<line x1="667.2" y1="635.8" x2="710.2" y2="790"/>
<line x1="707.9" y1="640.8" x2="755" y2="800.1"/>
<line x1="753" y1="646.4" x2="804.7" y2="811.3"/>
<line x1="803.1" y1="652.7" x2="860" y2="823.9"/>
<line x1="858.9" y1="659.9" x2="921.8" y2="838.1"/>
<line x1="921.3" y1="668" x2="991.1" y2="854.1"/>
<line x1="369.4" y1="487.8" x2="376.6" y2="602.4"/>
<line x1="372.8" y1="487.8" x2="381.3" y2="602.9"/>
<line x1="377.5" y1="487.7" x2="387.4" y2="603.5"/>
<line x1="383.7" y1="487.6" x2="395" y2="604.3"/>
<line x1="391.2" y1="487.5" x2="404" y2="605.3"/>
<line x1="400.3" y1="487.4" x2="414.6" y2="606.5"/>
<line x1="410.9" y1="487.2" x2="426.9" y2="607.8"/>
<line x1="423.2" y1="487.1" x2="440.8" y2="609.4"/>
<line x1="437.2" y1="486.9" x2="456.5" y2="611.1"/>
<line x1="453" y1="486.7" x2="474.2" y2="613.1"/>
<line x1="470.7" y1="486.5" x2="494" y2="615.4"/>
<line x1="490.5" y1="486.3" x2="516" y2="617.9"/>
<line x1="512.6" y1="486.1" x2="540.4" y2="620.7"/>
<line x1="537.1" y1="485.9" x2="567.4" y2="623.9"/>
<line x1="564.3" y1="485.7" x2="597.4" y2="627.4"/>
<line x1="594.4" y1="485.5" x2="630.5" y2="631.4"/>
<line x1="627.8" y1="485.3" x2="667.2" y2="635.8"/>
<line x1="664.7" y1="485.1" x2="707.9" y2="640.8"/>
<line x1="705.6" y1="485" x2="753" y2="646.4"/>
<line x1="751.1" y1="484.9" x2="803.1" y2="652.7"/>
<line x1="801.6" y1="484.9" x2="858.9" y2="659.9"/>
<line x1="857.9" y1="484.9" x2="921.3" y2="668"/>
<line x1="920.9" y1="485.1" x2="991.2" y2="677.2"/>
<line x1="368.1" y1="436.3" x2="372.8" y2="487.8"/>
<line x1="371.5" y1="436" x2="377.5" y2="487.7"/>
<line x1="376.2" y1="435.7" x2="383.7" y2="487.6"/>
<line x1="382.4" y1="435.2" x2="391.2" y2="487.5"/>
<line x1="389.9" y1="434.6" x2="400.3" y2="487.4"/>
<line x1="399" y1="433.9" x2="410.9" y2="487.2"/>
<line x1="409.6" y1="433.1" x2="423.2" y2="487.1"/>
<line x1="421.9" y1="432.2" x2="437.2" y2="486.9"/>
<line x1="435.9" y1="431.1" x2="453" y2="486.7"/>
<line x1="451.7" y1="429.9" x2="470.7" y2="486.5"/>
<line x1="469.5" y1="428.6" x2="490.5" y2="486.3"/>
<line x1="489.4" y1="427.1" x2="512.6" y2="486.1"/>
<line x1="511.5" y1="425.5" x2="537.1" y2="485.9"/>
<line x1="536.1" y1="423.7" x2="564.3" y2="485.7"/>
<line x1="563.3" y1="421.7" x2="594.4" y2="485.5"/>
<line x1="593.5" y1="419.6" x2="627.8" y2="485.3"/>
<line x1="626.9" y1="417.2" x2="664.7" y2="485.1"/>
<line x1="663.9" y1="414.6" x2="705.6" y2="485"/>
<line x1="705" y1="411.8" x2="751.1" y2="484.9"/>
<line x1="750.6" y1="408.6" x2="801.6" y2="484.9"/>
<line x1="801.3" y1="405.2" x2="857.9" y2="484.9"/>
<line x1="857.9" y1="401.4" x2="920.9" y2="485.1"/>
<line x1="921.2" y1="397.3" x2="991.6" y2="485.4"/>
<line x1="368.2" y1="406.8" x2="371.5" y2="436"/>
<line x1="371.6" y1="406.5" x2="376.2" y2="435.7"/>
<line x1="376.3" y1="405.9" x2="382.4" y2="435.2"/>
<line x1="382.4" y1="405.2" x2="389.9" y2="434.6"/>
<line x1="390" y1="404.3" x2="399" y2="433.9"/>
<line x1="399.1" y1="403.3" x2="409.6" y2="433.1"/>
<line x1="409.7" y1="402.1" x2="421.9" y2="432.2"/>
<line x1="422" y1="400.7" x2="435.9" y2="431.1"/>
<line x1="436" y1="399.1" x2="451.7" y2="429.9"/>
<line x1="451.8" y1="397.3" x2="469.5" y2="428.6"/>
<line x1="469.6" y1="395.3" x2="489.4" y2="427.1"/>
<line x1="489.5" y1="393.1" x2="511.5" y2="425.5"/>
<line x1="511.7" y1="390.6" x2="536.1" y2="423.7"/>
<line x1="536.3" y1="387.8" x2="563.3" y2="421.7"/>
<line x1="563.5" y1="384.8" x2="593.5" y2="419.6"/>
<line x1="593.8" y1="381.4" x2="626.9" y2="417.2"/>
<line x1="627.2" y1="377.7" x2="663.9" y2="414.6"/>
<line x1="664.3" y1="373.6" x2="705" y2="411.8"/>
<line x1="705.4" y1="369.1" x2="750.6" y2="408.6"/>
<line x1="751.1" y1="364.1" x2="801.3" y2="405.2"/>
<line x1="801.9" y1="358.6" x2="857.9" y2="401.4"/>
<line x1="858.6" y1="352.4" x2="921.2" y2="397.3"/>
<line x1="922.1" y1="345.6" x2="992.2" y2="392.8"/>
<line x1="370.9" y1="387.3" x2="371.6" y2="406.5"/>
<line x1="374.2" y1="386.9" x2="376.3" y2="405.9"/>
<line x1="379" y1="386.2" x2="382.4" y2="405.2"/>
<line x1="385.1" y1="385.4" x2="390" y2="404.3"/>
<line x1="392.7" y1="384.3" x2="399.1" y2="403.3"/>
<line x1="401.8" y1="383" x2="409.7" y2="402.1"/>
<line x1="412.4" y1="381.6" x2="422" y2="400.7"/>
<line x1="424.7" y1="379.9" x2="436" y2="399.1"/>
<line x1="438.7" y1="377.9" x2="451.8" y2="397.3"/>
<line x1="454.6" y1="375.7" x2="469.6" y2="395.3"/>
<line x1="472.4" y1="373.3" x2="489.5" y2="393.1"/>
<line x1="492.3" y1="370.5" x2="511.7" y2="390.6"/>
<line x1="514.4" y1="367.4" x2="536.3" y2="387.8"/>
<line x1="539.1" y1="364" x2="563.5" y2="384.8"/>
<line x1="566.4" y1="360.3" x2="593.8" y2="381.4"/>
<line x1="596.6" y1="356.1" x2="627.2" y2="377.7"/>
<line x1="630.1" y1="351.5" x2="664.3" y2="373.6"/>
<line x1="667.3" y1="346.4" x2="705.4" y2="369.1"/>
<line x1="708.4" y1="340.7" x2="751.1" y2="364.1"/>
<line x1="754.2" y1="334.5" x2="801.9" y2="358.6"/>
<line x1="805.1" y1="327.5" x2="858.6" y2="352.4"/>
<line x1="861.9" y1="319.8" x2="922.1" y2="345.6"/>
<line x1="925.4" y1="311.1" x2="993.4" y2="338"/>
<line x1="376.3" y1="379.8" x2="374.2" y2="386.9"/>
<line x1="379.6" y1="379.3" x2="379" y2="386.2"/>
<line x1="384.4" y1="378.6" x2="385.1" y2="385.4"/>
<line x1="390.5" y1="377.7" x2="392.7" y2="384.3"/>
<line x1="398.1" y1="376.6" x2="401.8" y2="383"/>
<line x1="407.2" y1="375.2" x2="412.4" y2="381.6"/>
<line x1="417.9" y1="373.6" x2="424.7" y2="379.9"/>
<line x1="430.1" y1="371.8" x2="438.7" y2="377.9"/>
<line x1="444.2" y1="369.8" x2="454.6" y2="375.7"/>
<line x1="460" y1="367.4" x2="472.4" y2="373.3"/>
<line x1="477.8" y1="364.8" x2="492.3" y2="370.5"/>
<line x1="497.7" y1="361.9" x2="514.4" y2="367.4"/>
<line x1="519.9" y1="358.6" x2="539.1" y2="364"/>
<line x1="544.5" y1="355" x2="566.4" y2="360.3"/>
<line x1="571.9" y1="350.9" x2="596.6" y2="356.1"/>
<line x1="602.1" y1="346.5" x2="630.1" y2="351.5"/>
<line x1="635.7" y1="341.6" x2="667.3" y2="346.4"/>
<line x1="672.8" y1="336.1" x2="708.4" y2="340.7"/>
<line x1="714" y1="330" x2="754.2" y2="334.5"/>
<line x1="759.8" y1="323.3" x2="805.1" y2="327.5"/>
<line x1="810.7" y1="315.9" x2="861.9" y2="319.8"/>
<line x1="867.5" y1="307.5" x2="925.4" y2="311.1"/>
<line x1="931.2" y1="298.2" x2="996.9" y2="301.4"/>
<line x1="387.4" y1="374.5" x2="379.6" y2="379.3"/>
<line x1="390.7" y1="374" x2="384.4" y2="378.6"/>
<line x1="395.5" y1="373.2" x2="390.5" y2="377.7"/>
<line x1="401.6" y1="372.3" x2="398.1" y2="376.6"/>
<line x1="409.2" y1="371.1" x2="407.2" y2="375.2"/>
<line x1="418.3" y1="369.7" x2="417.9" y2="373.6"/>
<line x1="429" y1="368.1" x2="430.1" y2="371.8"/>
<line x1="441.3" y1="366.3" x2="444.2" y2="369.8"/>
<line x1="455.3" y1="364.1" x2="460" y2="367.4"/>
<line x1="471.2" y1="361.7" x2="477.8" y2="364.8"/>
<line x1="489" y1="359" x2="497.7" y2="361.9"/>
<line x1="508.9" y1="356" x2="519.9" y2="358.6"/>
<line x1="531.1" y1="352.6" x2="544.5" y2="355"/>
<line x1="555.8" y1="348.8" x2="571.9" y2="350.9"/>
<line x1="583.1" y1="344.7" x2="602.1" y2="346.5"/>
<line x1="613.4" y1="340.1" x2="635.7" y2="341.6"/>
<line x1="646.9" y1="335" x2="672.8" y2="336.1"/>
<line x1="684.1" y1="329.3" x2="714" y2="330"/>
<line x1="725.3" y1="323.1" x2="759.8" y2="323.3"/>
<line x1="771.1" y1="316.1" x2="810.7" y2="315.9"/>
<line x1="822.1" y1="308.4" x2="867.5" y2="307.5"/>
<line x1="879" y1="299.8" x2="931.2" y2="298.2"/>
<line x1="942.6" y1="290.1" x2="1002.7" y2="287.8"/>
<line x1="420.6" y1="366.5" x2="390.7" y2="374"/>
<line x1="424" y1="365.9" x2="395.5" y2="373.2"/>
<line x1="428.8" y1="365.2" x2="401.6" y2="372.3"/>
<line x1="434.9" y1="364.3" x2="409.2" y2="371.1"/>
<line x1="442.5" y1="363.1" x2="418.3" y2="369.7"/>
<line x1="451.7" y1="361.7" x2="429" y2="368.1"/>
<line x1="462.3" y1="360" x2="441.3" y2="366.3"/>
<line x1="474.7" y1="358.1" x2="455.3" y2="364.1"/>
<line x1="488.7" y1="355.9" x2="471.2" y2="361.7"/>
<line x1="504.6" y1="353.4" x2="489" y2="359"/>
<line x1="522.5" y1="350.7" x2="508.9" y2="356"/>
<line x1="542.5" y1="347.6" x2="531.1" y2="352.6"/>
<line x1="564.7" y1="344.1" x2="555.8" y2="348.8"/>
<line x1="589.4" y1="340.3" x2="583.1" y2="344.7"/>
<line x1="616.8" y1="336" x2="613.4" y2="340.1"/>
<line x1="647.1" y1="331.3" x2="646.9" y2="335"/>
<line x1="680.7" y1="326.1" x2="684.1" y2="329.3"/>
<line x1="717.9" y1="320.3" x2="725.3" y2="323.1"/>
<line x1="759.2" y1="313.9" x2="771.1" y2="316.1"/>
<line x1="805.1" y1="306.8" x2="822.1" y2="308.4"/>
<line x1="856.1" y1="298.9" x2="879" y2="299.8"/>
<line x1="913" y1="290.1" x2="942.6" y2="290.1"/>
<line x1="976.7" y1="280.2" x2="1014.2" y2="279.3"/>
<line x1="475.2" y1="356" x2="424" y2="365.9"/>
<line x1="478.6" y1="355.5" x2="428.8" y2="365.2"/>
<line x1="483.3" y1="354.7" x2="434.9" y2="364.3"/>
<line x1="489.5" y1="353.7" x2="442.5" y2="363.1"/>
<line x1="497.2" y1="352.6" x2="451.7" y2="361.7"/>
<line x1="506.3" y1="351.1" x2="462.3" y2="360"/>
<line x1="517" y1="349.4" x2="474.7" y2="358.1"/>
<line x1="529.4" y1="347.5" x2="488.7" y2="355.9"/>
<line x1="543.5" y1="345.3" x2="504.6" y2="353.4"/>
<line x1="559.5" y1="342.8" x2="522.5" y2="350.7"/>
<line x1="577.4" y1="340" x2="542.5" y2="347.6"/>
<line x1="597.4" y1="336.9" x2="564.7" y2="344.1"/>
<line x1="619.7" y1="333.4" x2="589.4" y2="340.3"/>
<line x1="644.5" y1="329.5" x2="616.8" y2="336"/>
<line x1="671.9" y1="325.2" x2="647.1" y2="331.3"/>
<line x1="702.3" y1="320.4" x2="680.7" y2="326.1"/>
<line x1="736" y1="315.2" x2="717.9" y2="320.3"/>
<line x1="773.3" y1="309.3" x2="759.2" y2="313.9"/>
<line x1="814.7" y1="302.9" x2="805.1" y2="306.8"/>
<line x1="860.6" y1="295.7" x2="856.1" y2="298.9"/>
<line x1="911.7" y1="287.7" x2="913" y2="290.1"/>
<line x1="968.6" y1="278.8" x2="976.7" y2="280.2"/>
<line x1="1032.4" y1="268.8" x2="1048.3" y2="269.1"/>
<line x1="580.8" y1="336.7" x2="478.6" y2="355.5"/>
<line x1="584.2" y1="336.1" x2="483.3" y2="354.7"/>
<line x1="589" y1="335.4" x2="489.5" y2="353.7"/>
<line x1="595.2" y1="334.4" x2="497.2" y2="352.6"/>
<line x1="602.9" y1="333.2" x2="506.3" y2="351.1"/>
<line x1="612.1" y1="331.8" x2="517" y2="349.4"/>
<line x1="622.9" y1="330.1" x2="529.4" y2="347.5"/>
<line x1="635.3" y1="328.1" x2="543.5" y2="345.3"/>
<line x1="649.5" y1="325.9" x2="559.5" y2="342.8"/>
<line x1="665.5" y1="323.3" x2="577.4" y2="340"/>
<line x1="683.5" y1="320.5" x2="597.4" y2="336.9"/>
<line x1="703.6" y1="317.3" x2="619.7" y2="333.4"/>
<line x1="726" y1="313.8" x2="644.5" y2="329.5"/>
<line x1="750.9" y1="309.9" x2="671.9" y2="325.2"/>
<line x1="778.5" y1="305.5" x2="702.3" y2="320.4"/>
<line x1="809" y1="300.7" x2="736" y2="315.2"/>
<line x1="842.8" y1="295.4" x2="773.3" y2="309.3"/>
<line x1="880.2" y1="289.5" x2="814.7" y2="302.9"/>
<line x1="921.7" y1="283" x2="860.6" y2="295.7"/>
<line x1="967.7" y1="275.7" x2="911.7" y2="287.7"/>
<line x1="1018.8" y1="267.7" x2="968.6" y2="278.8"/>
<line x1="1075.8" y1="258.7" x2="1032.4" y2="268.8"/>
<line x1="1139.6" y1="248.7" x2="1104" y2="257.6"/>
<line x1="871.7" y1="284.2" x2="584.2" y2="336.1"/>
<line x1="875.2" y1="283.7" x2="589" y2="335.4"/>
<line x1="880" y1="282.9" x2="595.2" y2="334.4"/>
<line x1="886.3" y1="281.9" x2="602.9" y2="333.2"/>
<line x1="894.1" y1="280.6" x2="612.1" y2="331.8"/>
<line x1="903.3" y1="279.2" x2="622.9" y2="330.1"/>
<line x1="914.2" y1="277.4" x2="635.3" y2="328.1"/>
<line x1="926.8" y1="275.4" x2="649.5" y2="325.9"/>
<line x1="941.1" y1="273.1" x2="665.5" y2="323.3"/>
<line x1="957.3" y1="270.6" x2="683.5" y2="320.5"/>
<line x1="975.4" y1="267.7" x2="703.6" y2="317.3"/>
<line x1="995.6" y1="264.5" x2="726" y2="313.8"/>
<line x1="1018.2" y1="260.9" x2="750.9" y2="309.9"/>
<line x1="1043.2" y1="256.9" x2="778.5" y2="305.5"/>
<line x1="1070.9" y1="252.5" x2="809" y2="300.7"/>
<line x1="1101.5" y1="247.6" x2="842.8" y2="295.4"/>
<line x1="1135.4" y1="242.2" x2="880.2" y2="289.5"/>
<line x1="1172.9" y1="236.2" x2="921.7" y2="283"/>
<line x1="1214.3" y1="229.6" x2="967.7" y2="275.7"/>
<line x1="1260.3" y1="222.3" x2="1018.8" y2="267.7"/>
<line x1="1311.3" y1="214.2" x2="1075.8" y2="258.7"/>
<line x1="1368.1" y1="205.1" x2="1139.6" y2="248.7"/>
<line x1="1431.4" y1="195" x2="1211.1" y2="237.4"/>
</g>
<polygon points="373.6,380.2 384.7,374.9 417.9,366.9 472.5,356.4 578,337.1 869,284.6 1360.5,206.3 1068.2,259.9 961,280 905.4,291.3 871.4,300.9 859.9,308.6 373.6,380.2" fill="#838383" fill-opacity="0.78"/>
<g fill="none" stroke="#3c3c42" stroke-width="2.3" stroke-linejoin="round">
<polyline points="384.4,984.9 990.9,1213.1"/>
<polyline points="381.3,897.9 990.9,1114.1"/>
<polyline points="378.1,809.9 991,1014"/>
<polyline points="374.9,721 991,912.6"/>
<polyline points="371.7,631.1 991.1,809.9"/>
<polyline points="368.5,540.2 991.2,706"/>
<polyline points="365.8,448.3 991.4,600.7"/>
<polyline points="524.9,348.3 472.7,358.6 449.8,364.6 446.2,366.6 445.7,368.1" stroke-width="1.3"/>
<polyline points="445.7,368.1 445.3,369.6 460.8,375.3 519,389.4 638.6,416.2 991.6,494.1"/>
<polyline points="1028.2,263.1 754.3,314.2 733.7,319.5 721.5,323.2 719.3,325.1 720.9,327.9" stroke-width="1.3"/>
<polyline points="720.9,327.9 722.3,329.2 745.2,335.8 838.2,355.3 992.4,386"/>
</g>
<g fill="none">
<polyline points="387.6,1071 387.6,1070.7 387.5,1070.3 387.5,1069.6 387.4,1067.4 387.3,1063.9 387.1,1056.9 386.3,1036.7 385.2,1005.7 383.2,951.5 378.9,833.5 374.7,716.9 370.6,601.7 366.8,487.9 365.5,436.5 365.5,407.1 368.2,387.7 373.6,380.2 384.7,374.9 417.9,366.9 472.5,356.4 578,337.1 869,284.6" stroke="#808080" stroke-width="2.6"/>
<polyline points="990.8,1310.8 990.8,1310.4 990.8,1310 990.8,1309.2 990.8,1306.7 990.8,1302.7 990.8,1294.7 990.9,1271.5 990.9,1235 990.9,1169.5 991,1017.7 991.1,854.1 991.2,677.2 991.6,485.4 992.2,392.8 993.4,338 996.9,301.4 1002.7,287.8 1014.2,279.3 1048.3,269.1 1104,257.6 1211.1,237.4 1502.3,183.7" stroke="#9a9a9a" stroke-width="1.6"/>
<line x1="387.6" y1="1071" x2="990.8" y2="1310.8" stroke="#8a8a8a" stroke-width="2"/>
</g>
<g stroke="#111" stroke-width="2.7">
<line x1="326.4" y1="1080.1" x2="326.4" y2="1057.1"/>
<line x1="498.1" y1="1149.8" x2="498.1" y2="1126.8"/>
<line x1="685.5" y1="1225.8" x2="685.5" y2="1202.8"/>
<line x1="890.8" y1="1309.1" x2="890.8" y2="1286.1"/>
<line x1="410.4" y1="1114.2" x2="410.4" y2="1103.2"/>
<line x1="589.7" y1="1186.9" x2="589.7" y2="1175.9"/>
<line x1="785.8" y1="1266.5" x2="785.8" y2="1255.5"/>
<line x1="1001" y1="1353.8" x2="1001" y2="1342.8"/>
<line x1="1046.8" y1="1334" x2="1046.8" y2="1311"/>
<line x1="1220.7" y1="1259" x2="1220.7" y2="1236"/>
<line x1="1381.2" y1="1189.9" x2="1381.2" y2="1166.9"/>
<line x1="1529.6" y1="1125.9" x2="1529.6" y2="1102.9"/>
<line x1="1667.2" y1="1066.5" x2="1667.2" y2="1043.5"/>
<line x1="1135.6" y1="1295.8" x2="1135.6" y2="1284.8"/>
<line x1="1302.5" y1="1223.8" x2="1302.5" y2="1212.8"/>
<line x1="1456.8" y1="1157.3" x2="1456.8" y2="1146.3"/>
<line x1="1599.7" y1="1095.7" x2="1599.7" y2="1084.7"/>
<line x1="309" y1="1072.5" x2="331" y2="1072.5" stroke="#2a2a2a"/>
<line x1="301.5" y1="890" x2="323.5" y2="890" stroke="#2a2a2a"/>
<line x1="293.8" y1="703.3" x2="315.8" y2="703.3" stroke="#2a2a2a"/>
<line x1="285.9" y1="512.4" x2="307.9" y2="512.4" stroke="#2a2a2a"/>
<line x1="277.8" y1="317.1" x2="299.8" y2="317.1" stroke="#2a2a2a"/>
<line x1="269.5" y1="117.3" x2="291.5" y2="117.3" stroke="#2a2a2a"/>
</g>
<g stroke="#c4c4c4" stroke-width="2.3">
<line x1="404.4" y1="2797.7" x2="386.7" y2="1760.5"/>
<line x1="404.4" y1="2797.7" x2="1229.3" y2="2979.7"/>
<line x1="586.2" y1="2753" x2="574.5" y2="1756.7"/>
<line x1="586.2" y1="2753" x2="1401.2" y2="2920"/>
<line x1="754.1" y1="2711.7" x2="747.6" y2="1753.2"/>
<line x1="754.1" y1="2711.7" x2="1558.1" y2="2865.4"/>
<line x1="957.4" y1="2682" x2="956.5" y2="1750.8"/>
<line x1="256" y1="2857.9" x2="957.4" y2="2682"/>
<line x1="1127" y1="2712.4" x2="1130.8" y2="1753.7"/>
<line x1="431.5" y1="2899.9" x2="1127" y2="2712.4"/>
<line x1="1306.9" y1="2744.6" x2="1316" y2="1756.8"/>
<line x1="619.7" y1="2944.9" x2="1306.9" y2="2744.6"/>
<line x1="1498.2" y1="2778.9" x2="1513.2" y2="1760"/>
<line x1="822.1" y1="2993.3" x2="1498.2" y2="2778.9"/>
<line x1="206.6" y1="2829" x2="909.7" y2="2658.7"/>
<line x1="909.7" y1="2658.7" x2="1702.2" y2="2798.7"/>
<line x1="202.7" y1="2656.1" x2="909.4" y2="2510.5"/>
<line x1="909.4" y1="2510.5" x2="1705.7" y2="2630.4"/>
<line x1="198.7" y1="2481.4" x2="909" y2="2361.1"/>
<line x1="909" y1="2361.1" x2="1709.2" y2="2460.4"/>
<line x1="194.7" y1="2304.9" x2="908.7" y2="2210.3"/>
<line x1="908.7" y1="2210.3" x2="1712.8" y2="2288.8"/>
<line x1="190.6" y1="2126.7" x2="908.3" y2="2058.2"/>
<line x1="908.3" y1="2058.2" x2="1716.3" y2="2115.4"/>
<line x1="186.5" y1="1946.6" x2="908" y2="1904.8"/>
<line x1="908" y1="1904.8" x2="1720" y2="1940.4"/>
</g>
<g stroke="#000" stroke-width="2.2" stroke-linecap="square" fill="none">
<polyline points="207,2846.2 182.3,1764.6 907.6,1750 1723.6,1763.5 1701.8,2815.4 1040.2,3045.5 207,2846.2 909.8,2673.5 1701.8,2815.4"/>
<polyline points="907.6,1750 909.8,2673.5"/>
</g>
<g>
<polygon points="223,2822.6 918.3,2980 918.3,2980 223,2819" fill="#800090"/>
<polygon points="223,2822.6 918.3,2980 918.3,2973.5 223.1,2812" fill="#80009a"/>
<polygon points="223,2816.2 918.3,2978.6 918.4,2965 223.3,2804.9" fill="#8100a5"/>
<polygon points="223.2,2809.1 918.3,2970.1 918.6,2956.5 223.6,2797.7" fill="#8100b0"/>
<polygon points="223.4,2802 918.5,2961.6 918.8,2948.1 223.9,2790.6" fill="#8100ba"/>
<polygon points="223.7,2794.9 918.7,2953.1 919.1,2939.6 224.4,2783.5" fill="#8100c5"/>
<polygon points="224.1,2787.8 918.9,2944.7 919.5,2931.2 224.9,2776.3" fill="#8100cf"/>
<polygon points="224.6,2780.6 919.3,2936.2 919.9,2922.7 225.4,2769.1" fill="#8100da"/>
<polygon points="225.1,2773.4 919.6,2927.8 920.4,2914.4 226,2761.9" fill="#8200e5"/>
<polygon points="225.7,2766.3 920.1,2919.4 920.9,2906 226.7,2754.8" fill="#8200ef"/>
<polygon points="226.3,2759.1 920.6,2911 921.4,2897.6 227.4,2747.6" fill="#8200fa"/>
<polygon points="227,2751.9 921.1,2902.6 921.9,2889.3 228.1,2740.4" fill="#7d00ff"/>
<polygon points="227.7,2744.7 921.6,2894.3 922.5,2881 228.8,2733.2" fill="#7200ff"/>
<polygon points="228.4,2737.5 922.2,2886 923.1,2872.8 229.6,2726" fill="#6700ff"/>
<polygon points="229.1,2730.3 922.7,2877.7 923.8,2864.6 230.4,2718.8" fill="#5c00ff"/>
<polygon points="229.9,2723.1 923.4,2869.5 924.7,2856.4 231.4,2711.5" fill="#5100ff"/>
<polygon points="230.8,2715.9 924.1,2861.3 925.7,2848.1 232.6,2704.3" fill="#4600ff"/>
<polygon points="231.9,2708.6 925.1,2853.1 926.9,2839.9 233.9,2697" fill="#3c00ff"/>
<polygon points="233.1,2701.4 926.2,2844.8 928.2,2831.7 235.2,2689.7" fill="#3100ff"/>
<polygon points="234.4,2694 927.4,2836.6 929.6,2823.5 236.7,2682.3" fill="#2600ff"/>
<polygon points="235.8,2686.7 928.8,2828.4 931.2,2815.3 238.3,2675" fill="#1b00ff"/>
<polygon points="237.3,2679.4 930.2,2820.2 932.8,2807 239.9,2667.6" fill="#1000ff"/>
<polygon points="238.9,2672 931.8,2812 934.5,2798.8 241.6,2660.3" fill="#0500ff"/>
<polygon points="240.6,2664.7 933.5,2803.8 936.2,2790.6 243.4,2652.9" fill="#0008ff"/>
<polygon points="242.3,2657.3 935.2,2795.5 938,2782.4 245.1,2645.6" fill="#0019ff"/>
<polygon points="244.1,2650 936.9,2787.3 939.9,2774.2 246.9,2638.3" fill="#0029ff"/>
<polygon points="245.9,2642.7 938.8,2779.1 941.7,2766 248.7,2631" fill="#0039ff"/>
<polygon points="247.7,2635.3 940.6,2770.9 943.6,2757.7 250.5,2623.7" fill="#004aff"/>
<polygon points="249.5,2628 942.4,2762.7 945.4,2749.5 252.3,2616.4" fill="#005aff"/>
<polygon points="251.2,2620.8 944.3,2754.4 947.3,2741.2 254.1,2609.1" fill="#006aff"/>
<polygon points="253,2613.5 946.1,2746.2 949.4,2732.7 256,2601.7" fill="#007bff"/>
<polygon points="254.8,2606.1 948.1,2737.8 951.7,2724.2 257.9,2594.2" fill="#008bff"/>
<polygon points="256.8,2598.7 950.3,2729.3 954.1,2715.6 260,2586.7" fill="#009bff"/>
<polygon points="258.7,2591.2 952.6,2720.8 956.5,2706.9 262.1,2579.1" fill="#00acff"/>
<polygon points="260.8,2583.6 955,2712.1 959.1,2698.3 264.2,2571.6" fill="#00bcff"/>
<polygon points="262.9,2576.1 957.6,2703.5 961.7,2689.6 266.4,2564" fill="#00ccff"/>
<polygon points="265.1,2568.5 960.1,2694.8 964.4,2681.1 268.6,2556.6" fill="#00ddff"/>
<polygon points="267.2,2561.1 962.8,2686.2 967,2672.6 270.8,2549.2" fill="#00edff"/>
<polygon points="269.4,2553.6 965.4,2677.7 969.6,2664.2 273,2542" fill="#00fdff"/>
<polygon points="271.6,2546.3 968,2669.2 972.2,2656 275.2,2534.9" fill="#00ffe9"/>
<polygon points="273.9,2539.1 970.6,2660.9 974.7,2648 277.3,2527.9" fill="#00ffd0"/>
<polygon points="276,2532.1 973.2,2652.8 977.1,2640.1 279.5,2521.2" fill="#00ffb8"/>
<polygon points="278.2,2525.2 975.6,2644.8 979.3,2632.5 281.6,2514.7" fill="#00ff9f"/>
<polygon points="280.3,2518.6 978,2637.1 981.5,2625.2 283.6,2508.4" fill="#00ff86"/>
<polygon points="282.4,2512.1 980.2,2629.6 983.5,2618.5 285.5,2502.7" fill="#00ff6e"/>
<polygon points="284.4,2506 982.3,2622.4 985.3,2612.1 287.4,2497.3" fill="#00ff55"/>
<polygon points="286.3,2500.6 984.2,2615.9 987.9,2605 290.1,2491.3" fill="#00ff3c"/>
<polygon points="288.2,2495.1 986.1,2609.4 993.6,2596.6 295.7,2484.1" fill="#00ff24"/>
<polygon points="292.3,2488.5 990.1,2601.7 999.5,2587.8 301.8,2476.4" fill="#00ff0b"/>
<polygon points="298.1,2481 995.9,2593.1 1005.7,2578.6 308.1,2468.3" fill="#06ff00"/>
<polygon points="304.3,2473.2 1002,2584.1 1012.1,2569.1 314.7,2459.9" fill="#10ff00"/>
<polygon points="310.8,2465 1008.3,2574.8 1018.7,2559.4 321.5,2451.2" fill="#1aff00"/>
<polygon points="317.4,2456.4 1014.7,2565.3 1025.3,2549.6 328.4,2442.4" fill="#24ff00"/>
<polygon points="324.3,2447.7 1021.3,2555.5 1032,2539.7 335.4,2433.6" fill="#2eff00"/>
<polygon points="331.2,2438.9 1028,2545.7 1038.7,2529.8 342.4,2424.7" fill="#38ff00"/>
<polygon points="338.2,2430 1034.7,2535.8 1045.3,2520 349.3,2415.9" fill="#43ff00"/>
<polygon points="345.1,2421.2 1041.3,2525.9 1051.9,2510.3 356.1,2407.3" fill="#4dff00"/>
<polygon points="352,2412.4 1047.9,2516.1 1058.3,2500.8 362.7,2398.8" fill="#57ff00"/>
<polygon points="358.7,2403.9 1054.5,2506.5 1064.6,2491.5 369.1,2390.7" fill="#61ff00"/>
<polygon points="365.3,2395.5 1060.8,2497 1070.7,2482.4 375.3,2382.8" fill="#6bff00"/>
<polygon points="371.5,2387.5 1067,2487.9 1076.8,2473.4 381.4,2375" fill="#76ff00"/>
<polygon points="377.7,2379.7 1073.1,2478.8 1082.8,2464.5 387.5,2367.2" fill="#80ff00"/>
<polygon points="383.9,2371.9 1079.2,2469.8 1088.8,2455.6 393.5,2359.5" fill="#8aff00"/>
<polygon points="389.9,2364.1 1085.2,2460.9 1094.8,2446.8 399.5,2351.9" fill="#94ff00"/>
<polygon points="395.9,2356.5 1091.2,2452.1 1100.7,2438 405.5,2344.3" fill="#9eff00"/>
<polygon points="401.9,2348.9 1097.2,2443.2 1106.6,2429.2 411.4,2336.8" fill="#a8ff00"/>
<polygon points="407.8,2341.3 1103.1,2434.5 1112.5,2420.5 417.3,2329.3" fill="#b3ff00"/>
<polygon points="413.7,2333.8 1109,2425.7 1118.4,2411.8 423.1,2321.9" fill="#bdff00"/>
<polygon points="419.6,2326.3 1114.9,2417 1124.2,2403.2 428.9,2314.5" fill="#c7ff00"/>
<polygon points="425.4,2318.9 1120.7,2408.4 1130.1,2394.5 434.7,2307.1" fill="#d1ff00"/>
<polygon points="431.3,2311.5 1126.6,2399.7 1135.9,2385.9 440.5,2299.7" fill="#dbff00"/>
<polygon points="437,2304.1 1132.4,2391.1 1141.7,2377.3 446.3,2292.3" fill="#e6ff00"/>
<polygon points="442.8,2296.8 1138.2,2382.5 1147.5,2368.7 452.1,2285" fill="#f0ff00"/>
<polygon points="448.6,2289.4 1144,2373.9 1153.3,2360.1 457.8,2277.6" fill="#faff00"/>
<polygon points="454.4,2282 1149.8,2365.3 1159.1,2351.5 463.6,2270.3" fill="#fffa00"/>
<polygon points="460.2,2274.7 1155.6,2356.7 1164.9,2343 469.3,2263" fill="#fff100"/>
<polygon points="465.9,2267.4 1161.4,2348.1 1170.7,2334.4 475,2255.8" fill="#ffe700"/>
<polygon points="471.6,2260.1 1167.2,2339.5 1176.5,2325.9 480.7,2248.6" fill="#ffde00"/>
<polygon points="477.3,2252.9 1173,2331 1182.2,2317.3 486.3,2241.4" fill="#ffd400"/>
<polygon points="482.9,2245.7 1178.8,2322.4 1188,2308.8 491.9,2234.2" fill="#ffcb00"/>
<polygon points="488.6,2238.5 1184.5,2313.9 1193.7,2300.3 497.5,2227.1" fill="#ffc200"/>
<polygon points="494.2,2231.4 1190.3,2305.4 1199.4,2291.9 503.1,2219.9" fill="#ffb800"/>
<polygon points="499.8,2224.2 1196,2297 1205.1,2283.5 508.7,2212.8" fill="#ffaf00"/>
<polygon points="505.4,2217.1 1201.7,2288.5 1210.8,2275.1 514.3,2205.7" fill="#ffa500"/>
<polygon points="511,2210 1207.4,2280.1 1216.4,2266.7 519.9,2198.6" fill="#ff9c00"/>
<polygon points="516.6,2202.9 1213,2271.7 1222,2258.4 525.5,2191.5" fill="#ff9200"/>
<polygon points="522.2,2195.7 1218.7,2263.4 1227.6,2250.2 531.1,2184.3" fill="#ff8900"/>
<polygon points="527.8,2188.6 1224.3,2255.1 1233.2,2242 536.7,2177.2" fill="#ff8000"/>
<polygon points="533.4,2181.5 1229.8,2246.9 1238.7,2233.8 542.4,2170" fill="#ff7600"/>
<polygon points="539,2174.3 1235.4,2238.7 1244.1,2225.7 548,2162.8" fill="#ff6d00"/>
<polygon points="544.6,2167.1 1240.9,2230.6 1249.5,2217.7 553.7,2155.6" fill="#ff6300"/>
<polygon points="550.3,2159.9 1246.3,2222.5 1254.9,2209.7 559.4,2148.3" fill="#ff5a00"/>
<polygon points="556,2152.7 1251.7,2214.5 1260.2,2201.9 565.1,2141.1" fill="#ff5000"/>
<polygon points="561.7,2145.4 1257.1,2206.6 1265.5,2194 570.8,2133.8" fill="#ff4700"/>
<polygon points="567.3,2138.2 1262.4,2198.7 1270.8,2186.2 576.5,2126.6" fill="#ff3d00"/>
<polygon points="573,2130.9 1267.7,2190.9 1276.1,2178.4 582.2,2119.3" fill="#ff3400"/>
<polygon points="578.7,2123.7 1272.9,2183.1 1281.3,2170.6 587.9,2112.1" fill="#ff2b00"/>
<polygon points="584.4,2116.4 1278.2,2175.3 1286.6,2162.9 593.5,2104.8" fill="#ff2100"/>
<polygon points="590.1,2109.2 1283.4,2167.5 1291.8,2155.1 599.2,2097.6" fill="#ff1800"/>
<polygon points="595.8,2102 1288.7,2159.8 1297.1,2147.3 604.8,2090.4" fill="#ff0e00"/>
<polygon points="601.5,2094.8 1293.9,2152 1302.4,2139.5 610.5,2083.3" fill="#ff0500"/>
<polygon points="607.1,2087.6 1299.2,2144.2 1307.7,2131.7 616,2076.2" fill="#ff0000"/>
<polygon points="612.7,2080.4 1304.5,2136.4 1313,2123.8 621.6,2069.1" fill="#ff0000"/>
<polygon points="618.3,2073.3 1309.8,2128.5 1318.3,2115.9 627.1,2062.1" fill="#ff0000"/>
<polygon points="623.8,2066.3 1315.1,2120.6 1323.7,2107.9 632.6,2055.1" fill="#ff0000"/>
<polygon points="629.3,2059.3 1320.5,2112.7 1329.2,2099.8 638.1,2048.1" fill="#ff0000"/>
<polygon points="634.8,2052.3 1325.9,2104.7 1334.7,2091.7 643.5,2041.2" fill="#ff0000"/>
<polygon points="640.3,2045.3 1331.4,2096.6 1340.2,2083.5 648.9,2034.3" fill="#ff0000"/>
<polygon points="645.7,2038.4 1336.9,2088.4 1345.8,2075.3 654.3,2027.4" fill="#ff0000"/>
<polygon points="651.1,2031.5 1342.4,2080.2 1351.3,2067.1 659.7,2020.5" fill="#ff0000"/>
<polygon points="656.5,2024.7 1348,2072 1356.8,2058.9 665.1,2013.7" fill="#ff0000"/>
<polygon points="661.9,2017.8 1353.5,2063.8 1362.4,2050.7 670.4,2006.9" fill="#ff0000"/>
<polygon points="667.2,2011 1359.1,2055.6 1367.9,2042.5 675.8,2000.1" fill="#ff0000"/>
<polygon points="672.6,2004.2 1364.6,2047.4 1373.4,2034.4 681.1,1993.3" fill="#fd0000"/>
<polygon points="677.9,1997.4 1370.1,2039.3 1378.8,2026.3 686.4,1986.6" fill="#f90000"/>
<polygon points="683.2,1990.6 1375.6,2031.2 1384.2,2018.3 691.7,1979.8" fill="#f50000"/>
<polygon points="688.5,1983.8 1381,2023.1 1389.6,2010.4 697,1973" fill="#f00000"/>
<polygon points="693.9,1977.1 1386.4,2015.2 1394.9,2002.6 702.3,1966.3" fill="#ec0000"/>
<polygon points="699.2,1970.3 1391.7,2007.3 1400.1,1994.9 707.6,1959.5" fill="#e80000"/>
<polygon points="704.5,1963.6 1397,1999.5 1405.2,1987.3 712.9,1952.8" fill="#e40000"/>
<polygon points="709.8,1956.8 1402.1,1991.9 1410.3,1979.8 718.3,1946" fill="#e00000"/>
<polygon points="715.1,1950.1 1407.2,1984.3 1415.3,1972.3 723.6,1939.3" fill="#dc0000"/>
<polygon points="720.4,1943.3 1412.3,1976.8 1420.3,1965 728.9,1932.5" fill="#d70000"/>
<polygon points="725.7,1936.6 1417.3,1969.4 1425.2,1957.6 734.2,1925.8" fill="#d30000"/>
<polygon points="731,1929.8 1422.3,1962 1430.2,1950.4 739.4,1919" fill="#cf0000"/>
<polygon points="736.3,1923.1 1427.2,1954.7 1435,1943.1 744.7,1912.3" fill="#cb0000"/>
<polygon points="741.6,1916.3 1432.1,1947.5 1439.9,1935.9 750,1905.6" fill="#c70000"/>
<polygon points="746.8,1909.6 1437,1940.3 1444.8,1928.8 755.2,1898.9" fill="#c30000"/>
<polygon points="752.1,1902.9 1441.8,1933.1 1449.6,1921.6 760.5,1892.3" fill="#be0000"/>
<polygon points="757.3,1896.2 1446.7,1925.9 1454.4,1914.5 765.7,1885.6" fill="#ba0000"/>
<polygon points="762.5,1889.6 1451.5,1918.8 1459.2,1907.3 770.8,1879" fill="#b60000"/>
<polygon points="767.7,1883 1456.3,1911.6 1464,1900.2 776,1872.5" fill="#b20000"/>
<polygon points="772.9,1876.4 1461.2,1904.5 1468.9,1893.1 781.1,1865.9" fill="#ae0000"/>
<polygon points="778.1,1869.9 1466,1897.4 1473.7,1885.9 786.2,1859.5" fill="#aa0000"/>
<polygon points="783.2,1863.3 1470.8,1890.2 1478.6,1878.7 791.3,1853" fill="#a50000"/>
<polygon points="788.2,1856.9 1475.7,1883 1483.4,1871.6 796.3,1846.6" fill="#a10000"/>
<polygon points="793.3,1850.4 1480.5,1875.9 1488.2,1864.4 801.3,1840.2" fill="#9d0000"/>
<polygon points="798.3,1844 1485.3,1868.7 1493.1,1857.3 806.3,1833.8" fill="#990000"/>
<polygon points="803.3,1837.6 1490.2,1861.6 1497.9,1850.1 811.3,1827.5" fill="#950000"/>
<polygon points="808.3,1831.3 1495,1854.4 1502.7,1843 816.3,1821.2" fill="#910000"/>
<polygon points="813.3,1825 1499.8,1847.3 1507.5,1835.9 821.2,1814.9" fill="#8c0000"/>
<polygon points="818.3,1818.7 1504.6,1840.2 1512.3,1828.8 826.1,1808.6" fill="#880000"/>
<polygon points="823.2,1812.4 1509.4,1833.1 1517.1,1821.7 831,1802.4" fill="#840000"/>
<polygon points="828.1,1806.1 1514.2,1826 1521.8,1814.7 835.9,1796.2" fill="#800000"/>
<polygon points="833,1799.9 1519,1818.9 1526.6,1807.6 840.8,1790" fill="#7c0000"/>
<polygon points="837.9,1793.7 1523.7,1811.9 1531.4,1800.6 845.6,1783.8" fill="#780000"/>
<polygon points="842.7,1787.5 1528.5,1804.8 1536.1,1793.5 850.4,1777.7" fill="#730000"/>
<polygon points="847.5,1781.4 1533.3,1797.8 1540.9,1786.5 855.2,1771.6" fill="#6f0000"/>
<polygon points="852.3,1775.2 1538,1790.7 1545.6,1779.5 860,1765.5" fill="#6b0000"/>
</g>
<g fill="none" stroke="#8b8b8b" stroke-width="1.05">
<polyline points="223,2822.6 223.4,2802.4 224.1,2786.9 227.3,2747.9 230.7,2716.5 233.2,2700.7 236.2,2684.8 245.3,2644.9 255.1,2605.2 261.6,2580.7 275.9,2532.6 284.9,2504.5 289.2,2492.4 860,1765.5"/>
<polyline points="223.3,2822.7 223.7,2802.5 224.5,2786.9 227.7,2747.9 231.1,2716.6 233.5,2700.8 236.5,2684.9 245.6,2644.9 255.4,2605.2 261.9,2580.7 276.2,2532.7 285.2,2504.6 289.5,2492.5 860.3,1765.5"/>
<polyline points="224.3,2822.9 224.7,2802.7 225.4,2787.2 228.6,2748.1 232,2716.8 234.5,2701 237.5,2685.1 246.6,2645.1 256.4,2605.4 262.9,2580.9 277.2,2532.9 286.2,2504.7 290.5,2492.6 861.3,1765.5"/>
<polyline points="225.9,2823.3 226.3,2803.1 227.1,2787.5 230.3,2748.5 233.7,2717.2 236.1,2701.3 239.1,2685.4 248.2,2645.5 258,2605.7 264.6,2581.2 278.8,2533.2 287.8,2505 292.2,2492.9 862.9,1765.6"/>
<polyline points="228.3,2823.8 228.6,2803.6 229.4,2788.1 232.6,2749 236,2717.6 238.4,2701.8 241.5,2685.9 250.6,2645.9 260.3,2606.2 266.9,2581.6 281.1,2533.6 290.2,2505.4 294.5,2493.3 865.3,1765.6"/>
<polyline points="231.3,2824.5 231.7,2804.3 232.5,2788.7 235.6,2749.7 239,2718.3 241.5,2702.5 244.5,2686.5 253.6,2646.5 263.4,2606.7 269.9,2582.2 284.2,2534.1 293.2,2505.9 297.6,2493.8 868.3,1765.7"/>
<polyline points="235.1,2825.3 235.5,2805.2 236.3,2789.6 239.4,2750.5 242.8,2719.1 245.3,2703.2 248.3,2687.3 257.4,2647.3 267.2,2607.4 273.7,2582.9 288,2534.7 297.1,2506.6 301.4,2494.4 872.1,1765.7"/>
<polyline points="239.8,2826.4 240.1,2806.2 240.9,2790.6 244.1,2751.5 247.5,2720.1 249.9,2704.2 252.9,2688.2 262,2648.2 271.8,2608.3 278.4,2583.7 292.7,2535.6 301.7,2507.3 306,2495.1 876.8,1765.8"/>
<polyline points="245.3,2827.7 245.7,2807.5 246.4,2791.9 249.6,2752.7 253,2721.2 255.4,2705.3 258.4,2689.4 267.5,2649.3 277.3,2609.4 283.9,2584.8 298.2,2536.5 307.3,2508.3 311.6,2496.1 882.3,1766"/>
<polyline points="251.8,2829.1 252.2,2809 253,2793.4 256.1,2754.1 259.5,2722.6 261.9,2706.7 264.9,2690.7 272.1,2658.6 281.8,2618.7 288.1,2594.2 295.1,2569.5 302.4,2545.4 311.7,2515.9 318.2,2497.1 888.9,1766.1"/>
<polyline points="259.5,2830.9 259.8,2810.8 260.6,2795.1 263.7,2755.7 267.1,2724.2 269.5,2708.3 272.5,2692.2 279.7,2660.1 289.4,2620.1 295.7,2595.6 302.7,2570.9 310,2546.7 319.4,2517.1 325.8,2498.4 896.5,1766.2"/>
<polyline points="268.3,2832.9 268.7,2812.8 269.5,2797.1 272.6,2757.6 275.9,2726 278.3,2710.1 281.4,2694 288.5,2661.8 298.3,2621.8 304.6,2597.3 311.6,2572.5 318.9,2548.3 328.3,2518.6 334.7,2499.8 905.4,1766.4"/>
<polyline points="278.6,2835.2 279,2815.2 279.7,2799.4 282.9,2759.9 286.2,2728.2 288.6,2712.2 291.6,2696.1 298.8,2663.9 308.5,2623.8 314.9,2599.2 321.9,2574.3 329.2,2550.1 338.6,2520.4 345.1,2501.5 915.7,1766.6"/>
<polyline points="290.6,2837.9 291,2817.9 291.7,2802.1 294.8,2762.4 298.1,2730.7 300.5,2714.7 303.5,2698.6 312.6,2658.2 322.4,2617.9 326.8,2601.4 333.9,2576.5 341.2,2552.2 350.6,2522.4 357.1,2503.5 927.6,1766.9"/>
<polyline points="304.5,2841 304.8,2821.1 305.6,2805.2 308.6,2765.4 311.9,2733.6 314.3,2717.5 317.3,2701.4 320.8,2685.2 326.4,2660.9 336.3,2620.6 340.7,2604 347.8,2579 355.1,2554.6 364.6,2524.7 371,2505.8 941.5,1767.2"/>
<polyline points="320.7,2844.7 321,2824.8 321.7,2808.9 324.8,2768.9 328.1,2737 330.5,2720.9 333.5,2704.7 336.9,2688.4 342.6,2664.1 352.4,2623.6 356.8,2607 364,2581.9 371.4,2557.5 380.8,2527.5 387.3,2508.4 957.6,1767.5"/>
<polyline points="339.7,2849 340,2829.2 340.7,2813.2 343.7,2773 347,2740.9 349.4,2724.8 352.4,2708.5 355.8,2692.2 361.5,2667.8 371.3,2627.2 375.7,2610.5 382.9,2585.3 390.4,2560.8 402,2524 406.3,2511.5 976.5,1767.9"/>
<polyline points="362,2854.1 362.4,2834.3 363.1,2818.2 366.1,2777.9 369.3,2745.6 371.7,2729.4 374.6,2713.1 378.1,2696.7 383.7,2672.2 393.6,2631.4 398.1,2614.7 410.3,2572.8 422.4,2534.5 428.8,2515.2 998.8,1768.3"/>
<polyline points="388.7,2860.1 389,2840.4 389.7,2824.2 392.6,2783.6 395.8,2751.2 398.2,2734.9 401.2,2718.5 404.6,2702.1 410.3,2677.4 418.1,2644.7 424.6,2619.6 437,2577.5 449.1,2538.9 455.5,2519.5 1025.3,1768.9"/>
<polyline points="420.7,2867.4 421,2847.8 421.7,2831.4 424.6,2790.5 427.8,2757.9 430.1,2741.5 433.1,2725 436.5,2708.5 442.2,2683.7 450.1,2650.9 456.6,2625.6 469.1,2583.2 487.7,2524.8 1057.1,1769.5"/>
<polyline points="459.8,2876.2 460.1,2856.8 460.8,2840.3 463.6,2799 466.8,2766.1 469.1,2749.6 472.1,2733 475.5,2716.3 481.2,2691.4 489,2658.3 495.6,2632.9 508.3,2590.1 527,2531.2 1095.9,1770.3"/>
<polyline points="508.5,2887.2 508.7,2867.9 509.4,2851.2 512.2,2809.5 515.2,2776.2 517.5,2759.6 520.5,2742.9 523.9,2726.1 529.6,2701 537.5,2667.6 544.2,2641.9 554.3,2607.2 575.8,2539.2 1144,1771.3"/>
<polyline points="570.2,2901.2 570.5,2882.1 571.1,2865.1 572.6,2839.7 574.5,2814.4 575.9,2797.6 577.9,2780.7 582,2755.4 589.2,2721.6 599.1,2679.4 603.4,2662.1 613.5,2627 637.8,2549.3 1205,1772.5"/>
<polyline points="651,2919.5 651.8,2883.4 653.2,2857.4 655.1,2831.7 656.5,2814.6 658.4,2797.5 662.6,2771.9 669.7,2737.6 679.6,2694.8 684,2677.3 694.3,2641.6 718.8,2562.5 1284.5,1774.2"/>
<polyline points="760.9,2944.4 761.6,2908.1 763,2881.6 764.8,2855.2 766.1,2837.8 768,2820.4 772.1,2794.2 779.2,2759.3 789.2,2715.8 793.6,2697.9 804.1,2661.4 829,2580.5 1392.2,1776.4"/>
<polyline points="918.3,2980 918.5,2962 919.3,2934.4 920.8,2907 923.2,2871 924,2862 926.3,2844.1 930.8,2817.3 940.2,2772.7 946.2,2745.8 950.8,2727.5 958.8,2699.3 978.2,2636.3 987,2606.3 1545.6,1779.5"/>
<line x1="223.2" y1="2809.3" x2="918.3" y2="2970.3"/>
<line x1="223.3" y1="2805.3" x2="918.4" y2="2965.6"/>
<line x1="223.5" y1="2799.4" x2="918.5" y2="2958.5"/>
<line x1="223.8" y1="2793.6" x2="918.7" y2="2951.6"/>
<line x1="224.2" y1="2785.2" x2="919" y2="2941.7"/>
<line x1="225.1" y1="2773.6" x2="919.6" y2="2928"/>
<line x1="226.5" y1="2757.2" x2="920.7" y2="2908.8"/>
<line x1="229.7" y1="2725.3" x2="923.2" y2="2872"/>
<line x1="237.2" y1="2680" x2="930.1" y2="2820.8"/>
<line x1="259.5" y1="2588.5" x2="953.5" y2="2717.7"/>
<line x1="289.2" y1="2492.4" x2="987" y2="2606.3"/>
<line x1="228.4" y1="2810.5" x2="231.3" y2="2824.5"/>
<line x1="231.5" y1="2811.2" x2="235.1" y2="2825.3"/>
<line x1="235.3" y1="2812.1" x2="239.8" y2="2826.4"/>
<line x1="239.9" y1="2813.2" x2="245.3" y2="2827.7"/>
<line x1="245.5" y1="2814.5" x2="251.8" y2="2829.1"/>
<line x1="252" y1="2816" x2="259.5" y2="2830.9"/>
<line x1="259.6" y1="2817.7" x2="268.3" y2="2832.9"/>
<line x1="268.5" y1="2819.8" x2="278.6" y2="2835.2"/>
<line x1="278.8" y1="2822.2" x2="290.6" y2="2837.9"/>
<line x1="290.8" y1="2825" x2="304.5" y2="2841"/>
<line x1="304.6" y1="2828.2" x2="320.7" y2="2844.7"/>
<line x1="320.8" y1="2831.9" x2="339.7" y2="2849"/>
<line x1="339.8" y1="2836.3" x2="362" y2="2854.1"/>
<line x1="362.2" y1="2841.5" x2="388.7" y2="2860.1"/>
<line x1="388.8" y1="2847.7" x2="420.7" y2="2867.4"/>
<line x1="420.9" y1="2855.1" x2="459.8" y2="2876.2"/>
<line x1="460" y1="2864.1" x2="508.5" y2="2887.2"/>
<line x1="508.6" y1="2875.4" x2="570.2" y2="2901.2"/>
<line x1="570.3" y1="2889.7" x2="651" y2="2919.5"/>
<line x1="651.1" y1="2908.4" x2="760.9" y2="2944.4"/>
<line x1="760.9" y1="2933.8" x2="918.3" y2="2980"/>
<line x1="228.5" y1="2806.6" x2="231.5" y2="2811.2"/>
<line x1="231.6" y1="2807.3" x2="235.3" y2="2812.1"/>
<line x1="235.4" y1="2808.1" x2="239.9" y2="2813.2"/>
<line x1="240" y1="2809.2" x2="245.5" y2="2814.5"/>
<line x1="245.6" y1="2810.5" x2="252" y2="2816"/>
<line x1="252.1" y1="2812" x2="259.6" y2="2817.7"/>
<line x1="259.7" y1="2813.7" x2="268.5" y2="2819.8"/>
<line x1="268.6" y1="2815.8" x2="278.8" y2="2822.2"/>
<line x1="278.9" y1="2818.2" x2="290.8" y2="2825"/>
<line x1="290.9" y1="2820.9" x2="304.6" y2="2828.2"/>
<line x1="304.7" y1="2824.1" x2="320.8" y2="2831.9"/>
<line x1="320.9" y1="2827.8" x2="339.8" y2="2836.3"/>
<line x1="339.9" y1="2832.2" x2="362.2" y2="2841.5"/>
<line x1="362.3" y1="2837.4" x2="388.8" y2="2847.7"/>
<line x1="388.9" y1="2843.5" x2="420.9" y2="2855.1"/>
<line x1="420.9" y1="2850.9" x2="460" y2="2864.1"/>
<line x1="460.1" y1="2859.9" x2="508.6" y2="2875.4"/>
<line x1="508.7" y1="2871.1" x2="570.3" y2="2889.7"/>
<line x1="570.4" y1="2885.4" x2="651.1" y2="2908.4"/>
<line x1="651.2" y1="2904" x2="760.9" y2="2933.8"/>
<line x1="761" y1="2929.3" x2="918.3" y2="2970.3"/>
<line x1="228.8" y1="2800.6" x2="231.6" y2="2807.3"/>
<line x1="231.8" y1="2801.3" x2="235.4" y2="2808.1"/>
<line x1="235.6" y1="2802.2" x2="240" y2="2809.2"/>
<line x1="240.3" y1="2803.2" x2="245.6" y2="2810.5"/>
<line x1="245.8" y1="2804.5" x2="252.1" y2="2812"/>
<line x1="252.3" y1="2806" x2="259.7" y2="2813.7"/>
<line x1="260" y1="2807.7" x2="268.6" y2="2815.8"/>
<line x1="268.8" y1="2809.7" x2="278.9" y2="2818.2"/>
<line x1="279.1" y1="2812.1" x2="290.9" y2="2820.9"/>
<line x1="291.1" y1="2814.8" x2="304.7" y2="2824.1"/>
<line x1="305" y1="2818" x2="320.9" y2="2827.8"/>
<line x1="321.1" y1="2821.7" x2="339.9" y2="2832.2"/>
<line x1="340.1" y1="2826.1" x2="362.3" y2="2837.4"/>
<line x1="362.5" y1="2831.2" x2="388.9" y2="2843.5"/>
<line x1="389.1" y1="2837.3" x2="420.9" y2="2850.9"/>
<line x1="421.1" y1="2844.6" x2="460.1" y2="2859.9"/>
<line x1="460.2" y1="2853.6" x2="508.7" y2="2871.1"/>
<line x1="508.8" y1="2864.7" x2="570.4" y2="2885.4"/>
<line x1="570.6" y1="2878.8" x2="651.2" y2="2904"/>
<line x1="651.3" y1="2897.3" x2="761" y2="2929.3"/>
<line x1="761.1" y1="2922.4" x2="918.4" y2="2965.6"/>
<line x1="229" y1="2794.8" x2="231.8" y2="2801.3"/>
<line x1="232.1" y1="2795.5" x2="235.6" y2="2802.2"/>
<line x1="235.9" y1="2796.3" x2="240.3" y2="2803.2"/>
<line x1="240.5" y1="2797.4" x2="245.8" y2="2804.5"/>
<line x1="246.1" y1="2798.7" x2="252.3" y2="2806"/>
<line x1="252.6" y1="2800.1" x2="260" y2="2807.7"/>
<line x1="260.2" y1="2801.9" x2="268.8" y2="2809.7"/>
<line x1="269.1" y1="2803.9" x2="279.1" y2="2812.1"/>
<line x1="279.4" y1="2806.2" x2="291.1" y2="2814.8"/>
<line x1="291.3" y1="2808.9" x2="305" y2="2818"/>
<line x1="305.2" y1="2812.1" x2="321.1" y2="2821.7"/>
<line x1="321.4" y1="2815.8" x2="340.1" y2="2826.1"/>
<line x1="340.4" y1="2820.1" x2="362.5" y2="2831.2"/>
<line x1="362.7" y1="2825.2" x2="389.1" y2="2837.3"/>
<line x1="389.3" y1="2831.2" x2="421.1" y2="2844.6"/>
<line x1="421.4" y1="2838.5" x2="460.2" y2="2853.6"/>
<line x1="460.5" y1="2847.4" x2="508.8" y2="2864.7"/>
<line x1="509" y1="2858.4" x2="570.6" y2="2878.8"/>
<line x1="570.8" y1="2872.5" x2="651.3" y2="2897.3"/>
<line x1="651.5" y1="2890.8" x2="761.1" y2="2922.4"/>
<line x1="761.3" y1="2915.8" x2="918.5" y2="2958.5"/>
<line x1="229.5" y1="2786.4" x2="232.1" y2="2795.5"/>
<line x1="232.6" y1="2787.1" x2="235.9" y2="2796.3"/>
<line x1="236.4" y1="2788" x2="240.5" y2="2797.4"/>
<line x1="241" y1="2789" x2="246.1" y2="2798.7"/>
<line x1="246.5" y1="2790.3" x2="252.6" y2="2800.1"/>
<line x1="253.1" y1="2791.7" x2="260.2" y2="2801.9"/>
<line x1="260.7" y1="2793.4" x2="269.1" y2="2803.9"/>
<line x1="269.5" y1="2795.4" x2="279.4" y2="2806.2"/>
<line x1="279.8" y1="2797.8" x2="291.3" y2="2808.9"/>
<line x1="291.8" y1="2800.5" x2="305.2" y2="2812.1"/>
<line x1="305.7" y1="2803.6" x2="321.4" y2="2815.8"/>
<line x1="321.8" y1="2807.2" x2="340.4" y2="2820.1"/>
<line x1="340.8" y1="2811.5" x2="362.7" y2="2825.2"/>
<line x1="363.2" y1="2816.5" x2="389.3" y2="2831.2"/>
<line x1="389.8" y1="2822.5" x2="421.4" y2="2838.5"/>
<line x1="421.8" y1="2829.7" x2="460.5" y2="2847.4"/>
<line x1="460.9" y1="2838.5" x2="509" y2="2858.4"/>
<line x1="509.5" y1="2849.5" x2="570.8" y2="2872.5"/>
<line x1="571.2" y1="2863.4" x2="651.5" y2="2890.8"/>
<line x1="651.9" y1="2881.6" x2="761.3" y2="2915.8"/>
<line x1="761.7" y1="2906.3" x2="918.7" y2="2951.6"/>
<line x1="230.3" y1="2774.8" x2="232.6" y2="2787.1"/>
<line x1="233.4" y1="2775.5" x2="236.4" y2="2788"/>
<line x1="237.2" y1="2776.3" x2="241" y2="2789"/>
<line x1="241.8" y1="2777.3" x2="246.5" y2="2790.3"/>
<line x1="247.3" y1="2778.6" x2="253.1" y2="2791.7"/>
<line x1="253.9" y1="2780" x2="260.7" y2="2793.4"/>
<line x1="261.5" y1="2781.7" x2="269.5" y2="2795.4"/>
<line x1="270.3" y1="2783.7" x2="279.8" y2="2797.8"/>
<line x1="280.6" y1="2786" x2="291.8" y2="2800.5"/>
<line x1="292.6" y1="2788.6" x2="305.7" y2="2803.6"/>
<line x1="306.4" y1="2791.7" x2="321.8" y2="2807.2"/>
<line x1="322.6" y1="2795.3" x2="340.8" y2="2811.5"/>
<line x1="341.6" y1="2799.5" x2="363.2" y2="2816.5"/>
<line x1="363.9" y1="2804.5" x2="389.8" y2="2822.5"/>
<line x1="390.5" y1="2810.4" x2="421.8" y2="2829.7"/>
<line x1="422.5" y1="2817.5" x2="460.9" y2="2838.5"/>
<line x1="461.6" y1="2826.2" x2="509.5" y2="2849.5"/>
<line x1="510.2" y1="2837" x2="571.2" y2="2863.4"/>
<line x1="571.9" y1="2850.7" x2="651.9" y2="2881.6"/>
<line x1="652.6" y1="2868.6" x2="761.7" y2="2906.3"/>
<line x1="762.3" y1="2893" x2="919" y2="2941.7"/>
<line x1="231.7" y1="2758.4" x2="233.4" y2="2775.5"/>
<line x1="234.8" y1="2759" x2="237.2" y2="2776.3"/>
<line x1="238.6" y1="2759.9" x2="241.8" y2="2777.3"/>
<line x1="243.2" y1="2760.9" x2="247.3" y2="2778.6"/>
<line x1="248.7" y1="2762.1" x2="253.9" y2="2780"/>
<line x1="255.2" y1="2763.5" x2="261.5" y2="2781.7"/>
<line x1="262.8" y1="2765.2" x2="270.3" y2="2783.7"/>
<line x1="271.7" y1="2767.1" x2="280.6" y2="2786"/>
<line x1="282" y1="2769.3" x2="292.6" y2="2788.6"/>
<line x1="293.9" y1="2771.9" x2="306.4" y2="2791.7"/>
<line x1="307.8" y1="2775" x2="322.6" y2="2795.3"/>
<line x1="323.9" y1="2778.5" x2="341.6" y2="2799.5"/>
<line x1="342.9" y1="2782.6" x2="363.9" y2="2804.5"/>
<line x1="365.2" y1="2787.5" x2="390.5" y2="2810.4"/>
<line x1="391.8" y1="2793.3" x2="422.5" y2="2817.5"/>
<line x1="423.8" y1="2800.3" x2="461.6" y2="2826.2"/>
<line x1="462.8" y1="2808.8" x2="510.2" y2="2837"/>
<line x1="511.4" y1="2819.4" x2="571.9" y2="2850.7"/>
<line x1="573" y1="2832.9" x2="652.6" y2="2868.6"/>
<line x1="653.7" y1="2850.5" x2="762.3" y2="2893"/>
<line x1="763.4" y1="2874.5" x2="919.6" y2="2928"/>
<line x1="234.9" y1="2726.4" x2="234.8" y2="2759"/>
<line x1="238" y1="2727" x2="238.6" y2="2759.9"/>
<line x1="241.8" y1="2727.8" x2="243.2" y2="2760.9"/>
<line x1="246.4" y1="2728.8" x2="248.7" y2="2762.1"/>
<line x1="251.9" y1="2730" x2="255.2" y2="2763.5"/>
<line x1="258.4" y1="2731.3" x2="262.8" y2="2765.2"/>
<line x1="266" y1="2733" x2="271.7" y2="2767.1"/>
<line x1="274.9" y1="2734.8" x2="282" y2="2769.3"/>
<line x1="285.1" y1="2737" x2="293.9" y2="2771.9"/>
<line x1="297" y1="2739.5" x2="307.8" y2="2775"/>
<line x1="310.9" y1="2742.4" x2="323.9" y2="2778.5"/>
<line x1="327" y1="2745.9" x2="342.9" y2="2782.6"/>
<line x1="345.9" y1="2749.9" x2="365.2" y2="2787.5"/>
<line x1="368.2" y1="2754.6" x2="391.8" y2="2793.3"/>
<line x1="394.8" y1="2760.2" x2="423.8" y2="2800.3"/>
<line x1="426.8" y1="2767" x2="462.8" y2="2808.8"/>
<line x1="465.8" y1="2775.2" x2="511.4" y2="2819.4"/>
<line x1="514.2" y1="2785.5" x2="573" y2="2832.9"/>
<line x1="575.8" y1="2798.5" x2="653.7" y2="2850.5"/>
<line x1="656.4" y1="2815.5" x2="763.4" y2="2874.5"/>
<line x1="766" y1="2838.7" x2="920.7" y2="2908.8"/>
<line x1="242.5" y1="2681" x2="238" y2="2727"/>
<line x1="245.5" y1="2681.7" x2="241.8" y2="2727.8"/>
<line x1="249.3" y1="2682.4" x2="246.4" y2="2728.8"/>
<line x1="253.9" y1="2683.4" x2="251.9" y2="2730"/>
<line x1="259.4" y1="2684.5" x2="258.4" y2="2731.3"/>
<line x1="265.9" y1="2685.8" x2="266" y2="2733"/>
<line x1="273.5" y1="2687.4" x2="274.9" y2="2734.8"/>
<line x1="282.4" y1="2689.1" x2="285.1" y2="2737"/>
<line x1="292.6" y1="2691.2" x2="297" y2="2739.5"/>
<line x1="304.5" y1="2693.7" x2="310.9" y2="2742.4"/>
<line x1="318.3" y1="2696.5" x2="327" y2="2745.9"/>
<line x1="334.5" y1="2699.7" x2="345.9" y2="2749.9"/>
<line x1="353.4" y1="2703.6" x2="368.2" y2="2754.6"/>
<line x1="375.6" y1="2708.1" x2="394.8" y2="2760.2"/>
<line x1="402.2" y1="2713.5" x2="426.8" y2="2767"/>
<line x1="434.1" y1="2720" x2="465.8" y2="2775.2"/>
<line x1="473.1" y1="2727.9" x2="514.2" y2="2785.5"/>
<line x1="521.5" y1="2737.8" x2="575.8" y2="2798.5"/>
<line x1="583" y1="2750.3" x2="656.4" y2="2815.5"/>
<line x1="663.6" y1="2766.6" x2="766" y2="2838.7"/>
<line x1="773.1" y1="2788.9" x2="923.2" y2="2872"/>
<line x1="264.7" y1="2589.5" x2="245.5" y2="2681.7"/>
<line x1="267.8" y1="2590" x2="249.3" y2="2682.4"/>
<line x1="271.6" y1="2590.8" x2="253.9" y2="2683.4"/>
<line x1="276.2" y1="2591.6" x2="259.4" y2="2684.5"/>
<line x1="281.7" y1="2592.6" x2="265.9" y2="2685.8"/>
<line x1="288.2" y1="2593.9" x2="273.5" y2="2687.4"/>
<line x1="295.8" y1="2595.3" x2="282.4" y2="2689.1"/>
<line x1="304.7" y1="2596.9" x2="292.6" y2="2691.2"/>
<line x1="315" y1="2598.8" x2="304.5" y2="2693.7"/>
<line x1="326.9" y1="2601.1" x2="318.3" y2="2696.5"/>
<line x1="340.8" y1="2603.6" x2="334.5" y2="2699.7"/>
<line x1="356.9" y1="2606.6" x2="353.4" y2="2703.6"/>
<line x1="375.8" y1="2610.2" x2="375.6" y2="2708.1"/>
<line x1="398.2" y1="2614.3" x2="402.2" y2="2713.5"/>
<line x1="424.7" y1="2619.3" x2="434.1" y2="2720"/>
<line x1="456.7" y1="2625.2" x2="473.1" y2="2727.9"/>
<line x1="495.8" y1="2632.5" x2="521.5" y2="2737.8"/>
<line x1="544.3" y1="2641.5" x2="583" y2="2750.3"/>
<line x1="605.9" y1="2653" x2="663.6" y2="2766.6"/>
<line x1="686.6" y1="2668" x2="773.1" y2="2788.9"/>
<line x1="796.2" y1="2688.4" x2="930.1" y2="2820.8"/>
<line x1="294.5" y1="2493.3" x2="267.8" y2="2590"/>
<line x1="297.6" y1="2493.8" x2="271.6" y2="2590.8"/>
<line x1="301.4" y1="2494.4" x2="276.2" y2="2591.6"/>
<line x1="306" y1="2495.1" x2="281.7" y2="2592.6"/>
<line x1="311.6" y1="2496.1" x2="288.2" y2="2593.9"/>
<line x1="318.2" y1="2497.1" x2="295.8" y2="2595.3"/>
<line x1="325.8" y1="2498.4" x2="304.7" y2="2596.9"/>
<line x1="334.7" y1="2499.8" x2="315" y2="2598.8"/>
<line x1="345.1" y1="2501.5" x2="326.9" y2="2601.1"/>
<line x1="357.1" y1="2503.5" x2="340.8" y2="2603.6"/>
<line x1="371" y1="2505.8" x2="356.9" y2="2606.6"/>
<line x1="387.3" y1="2508.4" x2="375.8" y2="2610.2"/>
<line x1="406.3" y1="2511.5" x2="398.2" y2="2614.3"/>
<line x1="428.8" y1="2515.2" x2="424.7" y2="2619.3"/>
<line x1="455.5" y1="2519.5" x2="456.7" y2="2625.2"/>
<line x1="487.7" y1="2524.8" x2="495.8" y2="2632.5"/>
<line x1="527" y1="2531.2" x2="544.3" y2="2641.5"/>
<line x1="575.8" y1="2539.2" x2="605.9" y2="2653"/>
<line x1="637.8" y1="2549.3" x2="686.6" y2="2668"/>
<line x1="718.8" y1="2562.5" x2="796.2" y2="2688.4"/>
<line x1="829" y1="2580.5" x2="953.5" y2="2717.7"/>
<line x1="865.3" y1="1765.6" x2="297.6" y2="2493.8"/>
<line x1="868.3" y1="1765.7" x2="301.4" y2="2494.4"/>
<line x1="872.1" y1="1765.7" x2="306" y2="2495.1"/>
<line x1="876.8" y1="1765.8" x2="311.6" y2="2496.1"/>
<line x1="882.3" y1="1766" x2="318.2" y2="2497.1"/>
<line x1="888.9" y1="1766.1" x2="325.8" y2="2498.4"/>
<line x1="896.5" y1="1766.2" x2="334.7" y2="2499.8"/>
<line x1="905.4" y1="1766.4" x2="345.1" y2="2501.5"/>
<line x1="915.7" y1="1766.6" x2="357.1" y2="2503.5"/>
<line x1="927.6" y1="1766.9" x2="371" y2="2505.8"/>
<line x1="941.5" y1="1767.2" x2="387.3" y2="2508.4"/>
<line x1="957.6" y1="1767.5" x2="406.3" y2="2511.5"/>
<line x1="976.5" y1="1767.9" x2="428.8" y2="2515.2"/>
<line x1="998.8" y1="1768.3" x2="455.5" y2="2519.5"/>
<line x1="1025.3" y1="1768.9" x2="487.7" y2="2524.8"/>
<line x1="1057.1" y1="1769.5" x2="527" y2="2531.2"/>
<line x1="1095.9" y1="1770.3" x2="575.8" y2="2539.2"/>
<line x1="1144" y1="1771.3" x2="637.8" y2="2549.3"/>
<line x1="1205" y1="1772.5" x2="718.8" y2="2562.5"/>
<line x1="1284.5" y1="1774.2" x2="829" y2="2580.5"/>
<line x1="1392.2" y1="1776.4" x2="987" y2="2606.3"/>
</g>
<polygon points="223,2822.6 918.3,2980 918.4,2968.8 223.1,2815.1" fill="#878787" fill-opacity="0.85"/>
<g fill="none" stroke="#3c3c42" stroke-width="2.3">
<line x1="229.6" y1="2726" x2="923.1" y2="2872.8"/>
<line x1="252.3" y1="2616.4" x2="945.4" y2="2749.5"/>
<line x1="283.6" y1="2508.4" x2="981.5" y2="2625.2"/>
<line x1="369.1" y1="2390.7" x2="1064.6" y2="2491.5"/>
<line x1="457.8" y1="2277.6" x2="1153.3" y2="2360.1"/>
<line x1="542.4" y1="2170" x2="1238.7" y2="2233.8"/>
<line x1="627.1" y1="2062.1" x2="1318.3" y2="2115.9"/>
<line x1="707.6" y1="1959.5" x2="1400.1" y2="1994.9"/>
<line x1="786.2" y1="1859.5" x2="1473.7" y2="1885.9"/>
</g>
<g fill="none">
<polyline points="223,2822.6 223.2,2806.4 224.1,2788.4 226.9,2752.3 230.8,2716 235.5,2688.4 243.7,2651.4 255.1,2605.3 260,2586.4 268.1,2558 276.5,2530.7 284.3,2506.2 289.5,2492 860,1765.5" stroke="#888" stroke-width="2.4"/>
<polyline points="918.3,2980 918.6,2956.2 919.3,2934.9 921,2903.1 923.2,2871.8 925.3,2851 930.3,2819.9 938.9,2778.5 945.9,2747.4 951.2,2726.1 960.5,2693.5 976.7,2641.2 987.3,2605.8 1545.6,1779.5" stroke="#999" stroke-width="1.6"/>
<line x1="223" y1="2822.6" x2="918.3" y2="2980" stroke="#8a8a8a" stroke-width="2.4"/>
</g>
<g stroke="#111" stroke-width="2.7">
<line x1="256" y1="2858.9" x2="256" y2="2835.9"/>
<line x1="431.5" y1="2900.9" x2="431.5" y2="2877.9"/>
<line x1="619.7" y1="2945.9" x2="619.7" y2="2922.9"/>
<line x1="822.1" y1="2994.3" x2="822.1" y2="2971.3"/>
<line x1="1040.2" y1="3046.5" x2="1040.2" y2="3023.5"/>
<line x1="342.3" y1="2879.6" x2="342.3" y2="2868.6"/>
<line x1="524" y1="2923" x2="524" y2="2912"/>
<line x1="719.1" y1="2969.7" x2="719.1" y2="2958.7"/>
<line x1="929.1" y1="3019.9" x2="929.1" y2="3008.9"/>
<line x1="1229.3" y1="2980.7" x2="1229.3" y2="2957.7"/>
<line x1="1401.2" y1="2921" x2="1401.2" y2="2898"/>
<line x1="1558.1" y1="2866.4" x2="1558.1" y2="2843.4"/>
<line x1="1701.8" y1="2816.4" x2="1701.8" y2="2793.4"/>
<line x1="1137.1" y1="3012.8" x2="1137.1" y2="3001.8"/>
<line x1="1317.3" y1="2950.1" x2="1317.3" y2="2939.1"/>
<line x1="1481.4" y1="2893.1" x2="1481.4" y2="2882.1"/>
<line x1="1631.5" y1="2840.9" x2="1631.5" y2="2829.9"/>
<line x1="205.6" y1="2829" x2="227.6" y2="2829" stroke="#2a2a2a"/>
<line x1="201.7" y1="2656.1" x2="223.7" y2="2656.1" stroke="#2a2a2a"/>
<line x1="197.7" y1="2481.4" x2="219.7" y2="2481.4" stroke="#2a2a2a"/>
<line x1="193.7" y1="2304.9" x2="215.7" y2="2304.9" stroke="#2a2a2a"/>
<line x1="189.6" y1="2126.7" x2="211.6" y2="2126.7" stroke="#2a2a2a"/>
<line x1="185.5" y1="1946.6" x2="207.5" y2="1946.6" stroke="#2a2a2a"/>
<line x1="181.3" y1="1764.6" x2="203.3" y2="1764.6" stroke="#2a2a2a"/>
</g>
<text x="97" y="142" font-size="43" textLength="142.5" lengthAdjust="spacing">1.5×10<tspan dy="-20.2" font-size="25.8">9</tspan></text>
<text x="98.1" y="349.2" font-size="43" textLength="141.8" lengthAdjust="spacing">1.2×10<tspan dy="-20.2" font-size="25.8">9</tspan></text>
<text x="108" y="536" font-size="43" textLength="145.8" lengthAdjust="spacing">9.0×10<tspan dy="-20.2" font-size="25.8">8</tspan></text>
<text x="112" y="731.1" font-size="43" textLength="144.5" lengthAdjust="spacing">6.0×10<tspan dy="-20.2" font-size="25.8">8</tspan></text>
<text x="125.2" y="913.6" font-size="43" textLength="144.5" lengthAdjust="spacing">3.0×10<tspan dy="-20.2" font-size="25.8">8</tspan></text>
<text x="228.5" y="1090.7" font-size="43" textLength="59" lengthAdjust="spacing">0.0</text>
<text x="227.3" y="1185.7" font-size="43" textLength="140.9" lengthAdjust="spacing">1.1×10<tspan dy="-20.2" font-size="25.8">9</tspan></text>
<text x="407" y="1259.6" font-size="43" textLength="141.9" lengthAdjust="spacing">1.2×10<tspan dy="-20.2" font-size="25.8">9</tspan></text>
<text x="588.1" y="1332.2" font-size="43" textLength="142.4" lengthAdjust="spacing">1.3×10<tspan dy="-20.2" font-size="25.8">9</tspan></text>
<text x="785.5" y="1420.7" font-size="43" textLength="142.6" lengthAdjust="spacing">1.4×10<tspan dy="-20.2" font-size="25.8">9</tspan></text>
<text x="1043" y="1432" font-size="50" textLength="71" lengthAdjust="spacing">0.0</text>
<text x="1178.2" y="1359.2" font-size="43" textLength="161.8" lengthAdjust="spacing">2.0×10<tspan dy="-20.2" font-size="25.8">12</tspan></text>
<text x="1327.4" y="1293" font-size="43" textLength="162.3" lengthAdjust="spacing">4.0×10<tspan dy="-20.2" font-size="25.8">12</tspan></text>
<text x="1458.3" y="1227" font-size="43" textLength="161.8" lengthAdjust="spacing">6.0×10<tspan dy="-20.2" font-size="25.8">12</tspan></text>
<text x="1623.8" y="1162.2" font-size="43" textLength="160.7" lengthAdjust="spacing">8.0×10<tspan dy="-20.2" font-size="25.8">12</tspan></text>
<text transform="translate(65.7 961) rotate(-90)" font-size="47" textLength="650" lengthAdjust="spacing">Comprehensive stiffness Kg/(N/m)</text>
<text transform="translate(274.6 1262.4) rotate(29.8)" font-size="45" textLength="590" lengthAdjust="spacing" stroke="#000" stroke-width="0.8">Hydraulic spring rate <tspan font-style="italic">K</tspan><tspan font-size="30" dy="9">h</tspan><tspan dy="-9">/(N/m)</tspan></text>
<text transform="translate(1295.3 1486) rotate(-29.2)" font-size="44.5" textLength="451" lengthAdjust="spacing" stroke="#000" stroke-width="0.8">Load stiffness <tspan font-style="italic">K</tspan><tspan font-size="30" dy="9">m</tspan><tspan dy="-9">/(N/m)</tspan></text>
<text x="86.8" y="1780.5" font-size="43" textLength="69.5" lengthAdjust="spacing">600</text>
<text x="89.1" y="1961.4" font-size="43" textLength="69.4" lengthAdjust="spacing">500</text>
<text x="94.6" y="2142.4" font-size="43" textLength="68.5" lengthAdjust="spacing">400</text>
<text x="99.2" y="2321" font-size="43" textLength="67.1" lengthAdjust="spacing">300</text>
<text x="102.9" y="2497.8" font-size="43" textLength="69.4" lengthAdjust="spacing">200</text>
<text x="112.9" y="2673.7" font-size="43" textLength="64.1" lengthAdjust="spacing">100</text>
<text x="159.7" y="2846" font-size="43">0</text>
<text x="100" y="2952.5" font-size="43" textLength="155" lengthAdjust="spacing">8.0×10<tspan dy="-20.2" font-size="25.8">8</tspan></text>
<text x="295.2" y="2995" font-size="43" textLength="154.9" lengthAdjust="spacing">1.2×10<tspan dy="-20.2" font-size="25.8">9</tspan></text>
<text x="479" y="3042.8" font-size="43" textLength="155.1" lengthAdjust="spacing">1.6×10<tspan dy="-20.2" font-size="25.8">9</tspan></text>
<text x="671.5" y="3084.7" font-size="43" textLength="158.6" lengthAdjust="spacing">2.0×10<tspan dy="-20.2" font-size="25.8">9</tspan></text>
<text x="883.2" y="3156.3" font-size="43" textLength="158.5" lengthAdjust="spacing">2.4×10<tspan dy="-20.2" font-size="25.8">9</tspan></text>
<text x="1171.5" y="3101.7" font-size="43" textLength="177" lengthAdjust="spacing">3.0×10<tspan dy="-20.2" font-size="25.8">12</tspan></text>
<text x="1343.3" y="3037.3" font-size="43" textLength="175.7" lengthAdjust="spacing">6.0×10<tspan dy="-20.2" font-size="25.8">12</tspan></text>
<text x="1490.8" y="2971.9" font-size="43" textLength="174.2" lengthAdjust="spacing">9.0×10<tspan dy="-20.2" font-size="25.8">12</tspan></text>
<text x="1656.5" y="2904.8" font-size="43" textLength="200.6" lengthAdjust="spacing">12.0×10<tspan dy="-20.2" font-size="25.8">13</tspan></text>
<text transform="translate(50.2 2838.5) rotate(-90)" font-size="48.5" textLength="982" lengthAdjust="spacing">Coupled undamped natural frequencies <tspan font-style="italic">ω</tspan><tspan font-size="31" dy="9">gn</tspan><tspan dy="-9">/(rad/s)</tspan></text>
<text transform="translate(152.7 3038.9) rotate(15.1)" font-size="48.5" textLength="637" lengthAdjust="spacing" stroke="#000" stroke-width="0.8">Hydraulic spring rate <tspan font-style="italic">K</tspan><tspan font-size="30" dy="9">h</tspan><tspan dy="-9">/(N/m)</tspan></text>
<text transform="translate(1285 3203.7) rotate(-20)" font-size="47.5" textLength="494" lengthAdjust="spacing" stroke="#000" stroke-width="0.8">Load stiffness <tspan font-style="italic">K</tspan><tspan font-size="30" dy="9">m</tspan><tspan dy="-9">/(N/m)</tspan></text>
<text x="952" y="1671.5" font-size="82" textLength="93" lengthAdjust="spacing">(<tspan font-weight="bold">a</tspan>)</text>
<text x="949" y="3323" font-size="82" textLength="102" lengthAdjust="spacing">(<tspan font-weight="bold">b</tspan>)</text>
</svg></body></html>
